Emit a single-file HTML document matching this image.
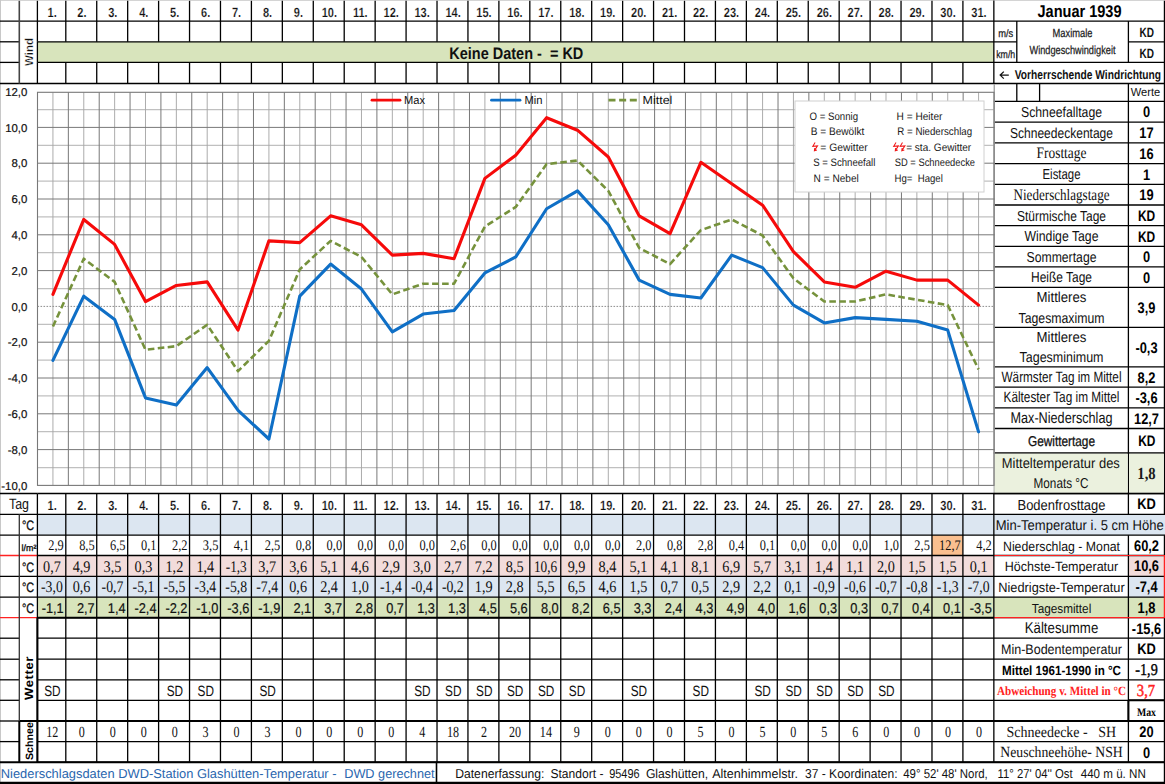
<!DOCTYPE html>
<html><head><meta charset="utf-8"><title>Januar 1939</title>
<style>html,body{margin:0;padding:0;background:#fff;overflow:hidden}body{width:1165px;height:784px;font-family:"Liberation Sans",sans-serif}text{text-rendering:geometricPrecision}</style>
</head><body>
<svg width="1165" height="784" viewBox="0 0 1165 784" style="display:block"><rect x="0.00" y="0.00" width="1165.00" height="784.00" fill="#fff"/>
<rect x="37.40" y="41.80" width="956.45" height="20.60" fill="#d8e4bc"/>
<line x1="0.00" y1="0.40" x2="1165.00" y2="0.40" stroke="#c8c8c8" stroke-width="0.9"/>
<line x1="0.50" y1="0.00" x2="0.50" y2="784.00" stroke="#c8c8c8" stroke-width="1.0"/>
<line x1="0.00" y1="21.10" x2="1165.00" y2="21.10" stroke="#000" stroke-width="1.3"/>
<line x1="0.00" y1="83.50" x2="1165.00" y2="83.50" stroke="#000" stroke-width="1.3"/>
<line x1="0.00" y1="41.80" x2="19.30" y2="41.80" stroke="#000" stroke-width="1.3"/>
<line x1="37.40" y1="41.80" x2="1016.80" y2="41.80" stroke="#000" stroke-width="1.3"/>
<line x1="0.00" y1="62.40" x2="19.30" y2="62.40" stroke="#000" stroke-width="1.3"/>
<line x1="37.40" y1="62.40" x2="1165.00" y2="62.40" stroke="#000" stroke-width="1.3"/>
<line x1="1128.40" y1="41.80" x2="1165.00" y2="41.80" stroke="#000" stroke-width="1.3"/>
<line x1="37.40" y1="0.80" x2="37.40" y2="41.80" stroke="#000" stroke-width="1.3"/>
<line x1="37.40" y1="62.40" x2="37.40" y2="83.50" stroke="#000" stroke-width="1.3"/>
<line x1="65.80" y1="0.80" x2="65.80" y2="41.80" stroke="#000" stroke-width="1.3"/>
<line x1="65.80" y1="62.40" x2="65.80" y2="83.50" stroke="#000" stroke-width="1.3"/>
<line x1="96.73" y1="0.80" x2="96.73" y2="41.80" stroke="#000" stroke-width="1.3"/>
<line x1="96.73" y1="62.40" x2="96.73" y2="83.50" stroke="#000" stroke-width="1.3"/>
<line x1="127.67" y1="0.80" x2="127.67" y2="41.80" stroke="#000" stroke-width="1.3"/>
<line x1="127.67" y1="62.40" x2="127.67" y2="83.50" stroke="#000" stroke-width="1.3"/>
<line x1="158.60" y1="0.80" x2="158.60" y2="41.80" stroke="#000" stroke-width="1.3"/>
<line x1="158.60" y1="62.40" x2="158.60" y2="83.50" stroke="#000" stroke-width="1.3"/>
<line x1="189.54" y1="0.80" x2="189.54" y2="41.80" stroke="#000" stroke-width="1.3"/>
<line x1="189.54" y1="62.40" x2="189.54" y2="83.50" stroke="#000" stroke-width="1.3"/>
<line x1="220.47" y1="0.80" x2="220.47" y2="41.80" stroke="#000" stroke-width="1.3"/>
<line x1="220.47" y1="62.40" x2="220.47" y2="83.50" stroke="#000" stroke-width="1.3"/>
<line x1="251.41" y1="0.80" x2="251.41" y2="41.80" stroke="#000" stroke-width="1.3"/>
<line x1="251.41" y1="62.40" x2="251.41" y2="83.50" stroke="#000" stroke-width="1.3"/>
<line x1="282.34" y1="0.80" x2="282.34" y2="41.80" stroke="#000" stroke-width="1.3"/>
<line x1="282.34" y1="62.40" x2="282.34" y2="83.50" stroke="#000" stroke-width="1.3"/>
<line x1="313.28" y1="0.80" x2="313.28" y2="41.80" stroke="#000" stroke-width="1.3"/>
<line x1="313.28" y1="62.40" x2="313.28" y2="83.50" stroke="#000" stroke-width="1.3"/>
<line x1="344.21" y1="0.80" x2="344.21" y2="41.80" stroke="#000" stroke-width="1.3"/>
<line x1="344.21" y1="62.40" x2="344.21" y2="83.50" stroke="#000" stroke-width="1.3"/>
<line x1="375.15" y1="0.80" x2="375.15" y2="41.80" stroke="#000" stroke-width="1.3"/>
<line x1="375.15" y1="62.40" x2="375.15" y2="83.50" stroke="#000" stroke-width="1.3"/>
<line x1="406.08" y1="0.80" x2="406.08" y2="41.80" stroke="#000" stroke-width="1.3"/>
<line x1="406.08" y1="62.40" x2="406.08" y2="83.50" stroke="#000" stroke-width="1.3"/>
<line x1="437.02" y1="0.80" x2="437.02" y2="41.80" stroke="#000" stroke-width="1.3"/>
<line x1="437.02" y1="62.40" x2="437.02" y2="83.50" stroke="#000" stroke-width="1.3"/>
<line x1="467.95" y1="0.80" x2="467.95" y2="41.80" stroke="#000" stroke-width="1.3"/>
<line x1="467.95" y1="62.40" x2="467.95" y2="83.50" stroke="#000" stroke-width="1.3"/>
<line x1="498.89" y1="0.80" x2="498.89" y2="41.80" stroke="#000" stroke-width="1.3"/>
<line x1="498.89" y1="62.40" x2="498.89" y2="83.50" stroke="#000" stroke-width="1.3"/>
<line x1="529.82" y1="0.80" x2="529.82" y2="41.80" stroke="#000" stroke-width="1.3"/>
<line x1="529.82" y1="62.40" x2="529.82" y2="83.50" stroke="#000" stroke-width="1.3"/>
<line x1="560.76" y1="0.80" x2="560.76" y2="41.80" stroke="#000" stroke-width="1.3"/>
<line x1="560.76" y1="62.40" x2="560.76" y2="83.50" stroke="#000" stroke-width="1.3"/>
<line x1="591.69" y1="0.80" x2="591.69" y2="41.80" stroke="#000" stroke-width="1.3"/>
<line x1="591.69" y1="62.40" x2="591.69" y2="83.50" stroke="#000" stroke-width="1.3"/>
<line x1="622.63" y1="0.80" x2="622.63" y2="41.80" stroke="#000" stroke-width="1.3"/>
<line x1="622.63" y1="62.40" x2="622.63" y2="83.50" stroke="#000" stroke-width="1.3"/>
<line x1="653.56" y1="0.80" x2="653.56" y2="41.80" stroke="#000" stroke-width="1.3"/>
<line x1="653.56" y1="62.40" x2="653.56" y2="83.50" stroke="#000" stroke-width="1.3"/>
<line x1="684.50" y1="0.80" x2="684.50" y2="41.80" stroke="#000" stroke-width="1.3"/>
<line x1="684.50" y1="62.40" x2="684.50" y2="83.50" stroke="#000" stroke-width="1.3"/>
<line x1="715.43" y1="0.80" x2="715.43" y2="41.80" stroke="#000" stroke-width="1.3"/>
<line x1="715.43" y1="62.40" x2="715.43" y2="83.50" stroke="#000" stroke-width="1.3"/>
<line x1="746.37" y1="0.80" x2="746.37" y2="41.80" stroke="#000" stroke-width="1.3"/>
<line x1="746.37" y1="62.40" x2="746.37" y2="83.50" stroke="#000" stroke-width="1.3"/>
<line x1="777.30" y1="0.80" x2="777.30" y2="41.80" stroke="#000" stroke-width="1.3"/>
<line x1="777.30" y1="62.40" x2="777.30" y2="83.50" stroke="#000" stroke-width="1.3"/>
<line x1="808.24" y1="0.80" x2="808.24" y2="41.80" stroke="#000" stroke-width="1.3"/>
<line x1="808.24" y1="62.40" x2="808.24" y2="83.50" stroke="#000" stroke-width="1.3"/>
<line x1="839.17" y1="0.80" x2="839.17" y2="41.80" stroke="#000" stroke-width="1.3"/>
<line x1="839.17" y1="62.40" x2="839.17" y2="83.50" stroke="#000" stroke-width="1.3"/>
<line x1="870.11" y1="0.80" x2="870.11" y2="41.80" stroke="#000" stroke-width="1.3"/>
<line x1="870.11" y1="62.40" x2="870.11" y2="83.50" stroke="#000" stroke-width="1.3"/>
<line x1="901.04" y1="0.80" x2="901.04" y2="41.80" stroke="#000" stroke-width="1.3"/>
<line x1="901.04" y1="62.40" x2="901.04" y2="83.50" stroke="#000" stroke-width="1.3"/>
<line x1="931.98" y1="0.80" x2="931.98" y2="41.80" stroke="#000" stroke-width="1.3"/>
<line x1="931.98" y1="62.40" x2="931.98" y2="83.50" stroke="#000" stroke-width="1.3"/>
<line x1="962.91" y1="0.80" x2="962.91" y2="41.80" stroke="#000" stroke-width="1.3"/>
<line x1="962.91" y1="62.40" x2="962.91" y2="83.50" stroke="#000" stroke-width="1.3"/>
<line x1="37.40" y1="41.80" x2="37.40" y2="62.40" stroke="#000" stroke-width="1.3"/>
<line x1="19.30" y1="0.80" x2="19.30" y2="83.50" stroke="#444" stroke-width="1.6"/>
<line x1="1016.80" y1="21.10" x2="1016.80" y2="62.40" stroke="#000" stroke-width="1.3"/>
<line x1="1128.40" y1="21.10" x2="1128.40" y2="62.40" stroke="#000" stroke-width="1.3"/>
<line x1="1164.40" y1="0.80" x2="1164.40" y2="784.00" stroke="#000" stroke-width="1.2"/>
<text transform="translate(52.20,17.00) scale(0.8300,1)" text-anchor="middle" font-family='"Liberation Sans", sans-serif' font-size="13.3" font-weight="bold" fill="#111" stroke="#fff" stroke-width="0.2" xml:space="preserve">1.</text>
<text transform="translate(81.87,17.00) scale(0.8300,1)" text-anchor="middle" font-family='"Liberation Sans", sans-serif' font-size="13.3" font-weight="bold" fill="#111" stroke="#fff" stroke-width="0.2" xml:space="preserve">2.</text>
<text transform="translate(112.80,17.00) scale(0.8300,1)" text-anchor="middle" font-family='"Liberation Sans", sans-serif' font-size="13.3" font-weight="bold" fill="#111" stroke="#fff" stroke-width="0.2" xml:space="preserve">3.</text>
<text transform="translate(143.74,17.00) scale(0.8300,1)" text-anchor="middle" font-family='"Liberation Sans", sans-serif' font-size="13.3" font-weight="bold" fill="#111" stroke="#fff" stroke-width="0.2" xml:space="preserve">4.</text>
<text transform="translate(174.67,17.00) scale(0.8300,1)" text-anchor="middle" font-family='"Liberation Sans", sans-serif' font-size="13.3" font-weight="bold" fill="#111" stroke="#fff" stroke-width="0.2" xml:space="preserve">5.</text>
<text transform="translate(205.61,17.00) scale(0.8300,1)" text-anchor="middle" font-family='"Liberation Sans", sans-serif' font-size="13.3" font-weight="bold" fill="#111" stroke="#fff" stroke-width="0.2" xml:space="preserve">6.</text>
<text transform="translate(236.54,17.00) scale(0.8300,1)" text-anchor="middle" font-family='"Liberation Sans", sans-serif' font-size="13.3" font-weight="bold" fill="#111" stroke="#fff" stroke-width="0.2" xml:space="preserve">7.</text>
<text transform="translate(267.48,17.00) scale(0.8300,1)" text-anchor="middle" font-family='"Liberation Sans", sans-serif' font-size="13.3" font-weight="bold" fill="#111" stroke="#fff" stroke-width="0.2" xml:space="preserve">8.</text>
<text transform="translate(298.41,17.00) scale(0.8300,1)" text-anchor="middle" font-family='"Liberation Sans", sans-serif' font-size="13.3" font-weight="bold" fill="#111" stroke="#fff" stroke-width="0.2" xml:space="preserve">9.</text>
<text transform="translate(329.35,17.00) scale(0.8300,1)" text-anchor="middle" font-family='"Liberation Sans", sans-serif' font-size="13.3" font-weight="bold" fill="#111" stroke="#fff" stroke-width="0.2" xml:space="preserve">10.</text>
<text transform="translate(360.28,17.00) scale(0.8300,1)" text-anchor="middle" font-family='"Liberation Sans", sans-serif' font-size="13.3" font-weight="bold" fill="#111" stroke="#fff" stroke-width="0.2" xml:space="preserve">11.</text>
<text transform="translate(391.22,17.00) scale(0.8300,1)" text-anchor="middle" font-family='"Liberation Sans", sans-serif' font-size="13.3" font-weight="bold" fill="#111" stroke="#fff" stroke-width="0.2" xml:space="preserve">12.</text>
<text transform="translate(422.15,17.00) scale(0.8300,1)" text-anchor="middle" font-family='"Liberation Sans", sans-serif' font-size="13.3" font-weight="bold" fill="#111" stroke="#fff" stroke-width="0.2" xml:space="preserve">13.</text>
<text transform="translate(453.09,17.00) scale(0.8300,1)" text-anchor="middle" font-family='"Liberation Sans", sans-serif' font-size="13.3" font-weight="bold" fill="#111" stroke="#fff" stroke-width="0.2" xml:space="preserve">14.</text>
<text transform="translate(484.02,17.00) scale(0.8300,1)" text-anchor="middle" font-family='"Liberation Sans", sans-serif' font-size="13.3" font-weight="bold" fill="#111" stroke="#fff" stroke-width="0.2" xml:space="preserve">15.</text>
<text transform="translate(514.96,17.00) scale(0.8300,1)" text-anchor="middle" font-family='"Liberation Sans", sans-serif' font-size="13.3" font-weight="bold" fill="#111" stroke="#fff" stroke-width="0.2" xml:space="preserve">16.</text>
<text transform="translate(545.89,17.00) scale(0.8300,1)" text-anchor="middle" font-family='"Liberation Sans", sans-serif' font-size="13.3" font-weight="bold" fill="#111" stroke="#fff" stroke-width="0.2" xml:space="preserve">17.</text>
<text transform="translate(576.83,17.00) scale(0.8300,1)" text-anchor="middle" font-family='"Liberation Sans", sans-serif' font-size="13.3" font-weight="bold" fill="#111" stroke="#fff" stroke-width="0.2" xml:space="preserve">18.</text>
<text transform="translate(607.76,17.00) scale(0.8300,1)" text-anchor="middle" font-family='"Liberation Sans", sans-serif' font-size="13.3" font-weight="bold" fill="#111" stroke="#fff" stroke-width="0.2" xml:space="preserve">19.</text>
<text transform="translate(638.70,17.00) scale(0.8300,1)" text-anchor="middle" font-family='"Liberation Sans", sans-serif' font-size="13.3" font-weight="bold" fill="#111" stroke="#fff" stroke-width="0.2" xml:space="preserve">20.</text>
<text transform="translate(669.63,17.00) scale(0.8300,1)" text-anchor="middle" font-family='"Liberation Sans", sans-serif' font-size="13.3" font-weight="bold" fill="#111" stroke="#fff" stroke-width="0.2" xml:space="preserve">21.</text>
<text transform="translate(700.57,17.00) scale(0.8300,1)" text-anchor="middle" font-family='"Liberation Sans", sans-serif' font-size="13.3" font-weight="bold" fill="#111" stroke="#fff" stroke-width="0.2" xml:space="preserve">22.</text>
<text transform="translate(731.50,17.00) scale(0.8300,1)" text-anchor="middle" font-family='"Liberation Sans", sans-serif' font-size="13.3" font-weight="bold" fill="#111" stroke="#fff" stroke-width="0.2" xml:space="preserve">23.</text>
<text transform="translate(762.44,17.00) scale(0.8300,1)" text-anchor="middle" font-family='"Liberation Sans", sans-serif' font-size="13.3" font-weight="bold" fill="#111" stroke="#fff" stroke-width="0.2" xml:space="preserve">24.</text>
<text transform="translate(793.37,17.00) scale(0.8300,1)" text-anchor="middle" font-family='"Liberation Sans", sans-serif' font-size="13.3" font-weight="bold" fill="#111" stroke="#fff" stroke-width="0.2" xml:space="preserve">25.</text>
<text transform="translate(824.31,17.00) scale(0.8300,1)" text-anchor="middle" font-family='"Liberation Sans", sans-serif' font-size="13.3" font-weight="bold" fill="#111" stroke="#fff" stroke-width="0.2" xml:space="preserve">26.</text>
<text transform="translate(855.24,17.00) scale(0.8300,1)" text-anchor="middle" font-family='"Liberation Sans", sans-serif' font-size="13.3" font-weight="bold" fill="#111" stroke="#fff" stroke-width="0.2" xml:space="preserve">27.</text>
<text transform="translate(886.18,17.00) scale(0.8300,1)" text-anchor="middle" font-family='"Liberation Sans", sans-serif' font-size="13.3" font-weight="bold" fill="#111" stroke="#fff" stroke-width="0.2" xml:space="preserve">28.</text>
<text transform="translate(917.11,17.00) scale(0.8300,1)" text-anchor="middle" font-family='"Liberation Sans", sans-serif' font-size="13.3" font-weight="bold" fill="#111" stroke="#fff" stroke-width="0.2" xml:space="preserve">29.</text>
<text transform="translate(948.05,17.00) scale(0.8300,1)" text-anchor="middle" font-family='"Liberation Sans", sans-serif' font-size="13.3" font-weight="bold" fill="#111" stroke="#fff" stroke-width="0.2" xml:space="preserve">30.</text>
<text transform="translate(978.98,17.00) scale(0.8300,1)" text-anchor="middle" font-family='"Liberation Sans", sans-serif' font-size="13.3" font-weight="bold" fill="#111" stroke="#fff" stroke-width="0.2" xml:space="preserve">31.</text>
<text transform="translate(32.60,52.00) rotate(-90)" text-anchor="middle" font-family='"Liberation Sans", sans-serif' font-size="11.5" font-weight="bold" fill="#111" textLength="28" lengthAdjust="spacingAndGlyphs" stroke="#fff" stroke-width="0.3" xml:space="preserve">Wind</text>
<text transform="translate(516.30,59.20)" text-anchor="middle" font-family='"Liberation Sans", sans-serif' font-size="16.6" font-weight="bold" fill="#111" textLength="134" lengthAdjust="spacingAndGlyphs" xml:space="preserve">Keine Daten -  = KD</text>
<text transform="translate(1079.50,17.30)" text-anchor="middle" font-family='"Liberation Sans", sans-serif' font-size="17" font-weight="bold" fill="#000" textLength="84" lengthAdjust="spacingAndGlyphs" xml:space="preserve">Januar 1939</text>
<text transform="translate(1005.70,37.00)" text-anchor="middle" font-family='"Liberation Sans", sans-serif' font-size="10.8" font-weight="normal" fill="#1a1a1a" textLength="15" lengthAdjust="spacingAndGlyphs" stroke="#1a1a1a" stroke-width="0.25" xml:space="preserve">m/s</text>
<text transform="translate(1005.70,57.70)" text-anchor="middle" font-family='"Liberation Sans", sans-serif' font-size="10.8" font-weight="normal" fill="#1a1a1a" textLength="19" lengthAdjust="spacingAndGlyphs" stroke="#1a1a1a" stroke-width="0.25" xml:space="preserve">km/h</text>
<text transform="translate(1072.50,37.20)" text-anchor="middle" font-family='"Liberation Sans", sans-serif' font-size="11.8" font-weight="normal" fill="#1a1a1a" textLength="40" lengthAdjust="spacingAndGlyphs" stroke="#1a1a1a" stroke-width="0.25" xml:space="preserve">Maximale</text>
<text transform="translate(1072.50,53.60)" text-anchor="middle" font-family='"Liberation Sans", sans-serif' font-size="11.8" font-weight="normal" fill="#1a1a1a" textLength="86" lengthAdjust="spacingAndGlyphs" stroke="#1a1a1a" stroke-width="0.25" xml:space="preserve">Windgeschwindigkeit</text>
<text transform="translate(1146.80,37.00)" text-anchor="middle" font-family='"Liberation Sans", sans-serif' font-size="13.5" font-weight="bold" fill="#111" textLength="14.5" lengthAdjust="spacingAndGlyphs" xml:space="preserve">KD</text>
<text transform="translate(1146.80,57.80)" text-anchor="middle" font-family='"Liberation Sans", sans-serif' font-size="13.5" font-weight="bold" fill="#111" textLength="14.5" lengthAdjust="spacingAndGlyphs" xml:space="preserve">KD</text>
<path d="M1008.8,75.1 H1000.2 M1003.8,71.6 L1000.2,75.1 L1003.8,78.6" fill="none" stroke="#111" stroke-width="1.3"/>
<text transform="translate(1014.80,78.80)" text-anchor="start" font-family='"Liberation Sans", sans-serif' font-size="12.8" font-weight="bold" fill="#111" textLength="146.3" lengthAdjust="spacingAndGlyphs" xml:space="preserve">Vorherrschende Windrichtung</text>
<line x1="993.85" y1="101.30" x2="1165.00" y2="101.30" stroke="#000" stroke-width="1.3"/>
<line x1="993.85" y1="122.10" x2="1165.00" y2="122.10" stroke="#000" stroke-width="1.3"/>
<line x1="993.85" y1="142.90" x2="1165.00" y2="142.90" stroke="#000" stroke-width="1.3"/>
<line x1="993.85" y1="163.60" x2="1165.00" y2="163.60" stroke="#000" stroke-width="1.3"/>
<line x1="993.85" y1="184.30" x2="1165.00" y2="184.30" stroke="#000" stroke-width="1.3"/>
<line x1="993.85" y1="205.00" x2="1165.00" y2="205.00" stroke="#000" stroke-width="1.3"/>
<line x1="993.85" y1="225.70" x2="1165.00" y2="225.70" stroke="#000" stroke-width="1.3"/>
<line x1="993.85" y1="246.30" x2="1165.00" y2="246.30" stroke="#000" stroke-width="1.3"/>
<line x1="993.85" y1="266.90" x2="1165.00" y2="266.90" stroke="#000" stroke-width="1.3"/>
<line x1="993.85" y1="287.40" x2="1165.00" y2="287.40" stroke="#000" stroke-width="1.3"/>
<line x1="993.85" y1="327.40" x2="1165.00" y2="327.40" stroke="#000" stroke-width="1.3"/>
<line x1="993.85" y1="366.80" x2="1165.00" y2="366.80" stroke="#000" stroke-width="1.3"/>
<line x1="993.85" y1="387.10" x2="1165.00" y2="387.10" stroke="#000" stroke-width="1.3"/>
<line x1="993.85" y1="407.80" x2="1165.00" y2="407.80" stroke="#000" stroke-width="1.3"/>
<line x1="993.85" y1="428.50" x2="1165.00" y2="428.50" stroke="#000" stroke-width="1.3"/>
<line x1="993.85" y1="453.00" x2="1165.00" y2="453.00" stroke="#000" stroke-width="1.3"/>
<line x1="993.85" y1="493.50" x2="1165.00" y2="493.50" stroke="#000" stroke-width="1.3"/>
<line x1="993.85" y1="0.40" x2="993.85" y2="83.50" stroke="#000" stroke-width="1.3"/>
<line x1="994.25" y1="84.10" x2="994.25" y2="493.00" stroke="#9c9c9c" stroke-width="1.3"/>
<line x1="1128.40" y1="83.50" x2="1128.40" y2="493.50" stroke="#000" stroke-width="1.3"/>
<line x1="1016.80" y1="83.50" x2="1016.80" y2="101.30" stroke="#000" stroke-width="1.3"/>
<line x1="1039.60" y1="83.50" x2="1039.60" y2="101.30" stroke="#000" stroke-width="1.3"/>
<rect x="994.55" y="453.70" width="133.15" height="39.10" fill="#ebf1de"/>
<rect x="1129.10" y="453.70" width="34.70" height="39.10" fill="#ebf1de"/>
<text transform="translate(1145.50,96.30)" text-anchor="middle" font-family='"Liberation Sans", sans-serif' font-size="11.8" font-weight="normal" fill="#111" textLength="29.5" lengthAdjust="spacingAndGlyphs" xml:space="preserve">Werte</text>
<text transform="translate(1061.50,116.90)" text-anchor="middle" font-family='"Liberation Sans", sans-serif' font-size="14.5" font-weight="normal" fill="#111" textLength="81" lengthAdjust="spacingAndGlyphs" xml:space="preserve">Schneefalltage</text>
<text transform="translate(1146.50,117.30) scale(0.8400,1)" text-anchor="middle" font-family='"Liberation Sans", sans-serif' font-size="15.3" font-weight="bold" fill="#000" xml:space="preserve">0</text>
<text transform="translate(1061.50,137.70)" text-anchor="middle" font-family='"Liberation Sans", sans-serif' font-size="14.5" font-weight="normal" fill="#111" textLength="103" lengthAdjust="spacingAndGlyphs" xml:space="preserve">Schneedeckentage</text>
<text transform="translate(1146.50,138.10) scale(0.8400,1)" text-anchor="middle" font-family='"Liberation Sans", sans-serif' font-size="15.3" font-weight="bold" fill="#000" xml:space="preserve">17</text>
<text transform="translate(1061.50,158.45)" text-anchor="middle" font-family='"Liberation Serif", serif' font-size="16" font-weight="normal" fill="#111" textLength="50" lengthAdjust="spacingAndGlyphs" xml:space="preserve">Frosttage</text>
<text transform="translate(1146.50,158.85) scale(0.8400,1)" text-anchor="middle" font-family='"Liberation Sans", sans-serif' font-size="15.3" font-weight="bold" fill="#000" xml:space="preserve">16</text>
<text transform="translate(1061.50,179.15)" text-anchor="middle" font-family='"Liberation Sans", sans-serif' font-size="14.5" font-weight="normal" fill="#111" textLength="38" lengthAdjust="spacingAndGlyphs" xml:space="preserve">Eistage</text>
<text transform="translate(1146.50,179.55) scale(0.8400,1)" text-anchor="middle" font-family='"Liberation Sans", sans-serif' font-size="15.3" font-weight="bold" fill="#000" xml:space="preserve">1</text>
<text transform="translate(1061.50,199.85)" text-anchor="middle" font-family='"Liberation Serif", serif' font-size="16" font-weight="normal" fill="#111" textLength="96" lengthAdjust="spacingAndGlyphs" xml:space="preserve">Niederschlagstage</text>
<text transform="translate(1146.50,200.25) scale(0.8400,1)" text-anchor="middle" font-family='"Liberation Sans", sans-serif' font-size="15.3" font-weight="bold" fill="#000" xml:space="preserve">19</text>
<text transform="translate(1061.50,220.55)" text-anchor="middle" font-family='"Liberation Sans", sans-serif' font-size="14.5" font-weight="normal" fill="#111" textLength="89" lengthAdjust="spacingAndGlyphs" xml:space="preserve">Stürmische Tage</text>
<text transform="translate(1146.50,220.95) scale(0.7800,1)" text-anchor="middle" font-family='"Liberation Sans", sans-serif' font-size="15.3" font-weight="bold" fill="#000" xml:space="preserve">KD</text>
<text transform="translate(1061.50,241.20)" text-anchor="middle" font-family='"Liberation Sans", sans-serif' font-size="14.5" font-weight="normal" fill="#111" textLength="74" lengthAdjust="spacingAndGlyphs" xml:space="preserve">Windige Tage</text>
<text transform="translate(1146.50,241.60) scale(0.7800,1)" text-anchor="middle" font-family='"Liberation Sans", sans-serif' font-size="15.3" font-weight="bold" fill="#000" xml:space="preserve">KD</text>
<text transform="translate(1061.50,261.80)" text-anchor="middle" font-family='"Liberation Sans", sans-serif' font-size="14.5" font-weight="normal" fill="#111" textLength="70" lengthAdjust="spacingAndGlyphs" xml:space="preserve">Sommertage</text>
<text transform="translate(1146.50,262.20) scale(0.8400,1)" text-anchor="middle" font-family='"Liberation Sans", sans-serif' font-size="15.3" font-weight="bold" fill="#000" xml:space="preserve">0</text>
<text transform="translate(1061.50,282.35)" text-anchor="middle" font-family='"Liberation Sans", sans-serif' font-size="14.5" font-weight="normal" fill="#111" textLength="61" lengthAdjust="spacingAndGlyphs" xml:space="preserve">Heiße Tage</text>
<text transform="translate(1146.50,282.75) scale(0.8400,1)" text-anchor="middle" font-family='"Liberation Sans", sans-serif' font-size="15.3" font-weight="bold" fill="#000" xml:space="preserve">0</text>
<text transform="translate(1061.50,302.40)" text-anchor="middle" font-family='"Liberation Sans", sans-serif' font-size="14.5" font-weight="normal" fill="#111" textLength="50" lengthAdjust="spacingAndGlyphs" xml:space="preserve">Mittleres</text>
<text transform="translate(1061.50,322.60)" text-anchor="middle" font-family='"Liberation Sans", sans-serif' font-size="14.5" font-weight="normal" fill="#111" textLength="86" lengthAdjust="spacingAndGlyphs" xml:space="preserve">Tagesmaximum</text>
<text transform="translate(1146.50,313.40) scale(0.8400,1)" text-anchor="middle" font-family='"Liberation Sans", sans-serif' font-size="15.3" font-weight="bold" fill="#000" xml:space="preserve">3,9</text>
<text transform="translate(1061.50,342.00)" text-anchor="middle" font-family='"Liberation Sans", sans-serif' font-size="14.5" font-weight="normal" fill="#111" textLength="50" lengthAdjust="spacingAndGlyphs" xml:space="preserve">Mittleres</text>
<text transform="translate(1061.50,362.20)" text-anchor="middle" font-family='"Liberation Sans", sans-serif' font-size="14.5" font-weight="normal" fill="#111" textLength="84" lengthAdjust="spacingAndGlyphs" xml:space="preserve">Tagesminimum</text>
<text transform="translate(1146.50,352.90) scale(0.8400,1)" text-anchor="middle" font-family='"Liberation Sans", sans-serif' font-size="15.3" font-weight="bold" fill="#000" xml:space="preserve">-0,3</text>
<text transform="translate(1061.50,381.55)" text-anchor="middle" font-family='"Liberation Sans", sans-serif' font-size="15.0" font-weight="normal" fill="#111" textLength="120" lengthAdjust="spacingAndGlyphs" xml:space="preserve">Wärmster Tag im Mittel</text>
<text transform="translate(1146.50,382.55) scale(0.8400,1)" text-anchor="middle" font-family='"Liberation Sans", sans-serif' font-size="15.3" font-weight="bold" fill="#000" xml:space="preserve">8,2</text>
<text transform="translate(1061.50,402.05)" text-anchor="middle" font-family='"Liberation Sans", sans-serif' font-size="15.0" font-weight="normal" fill="#111" textLength="116" lengthAdjust="spacingAndGlyphs" xml:space="preserve">Kältester Tag im Mittel</text>
<text transform="translate(1146.50,403.05) scale(0.8400,1)" text-anchor="middle" font-family='"Liberation Sans", sans-serif' font-size="15.3" font-weight="bold" fill="#000" xml:space="preserve">-3,6</text>
<text transform="translate(1061.50,422.75)" text-anchor="middle" font-family='"Liberation Sans", sans-serif' font-size="15.5" font-weight="normal" fill="#111" textLength="102" lengthAdjust="spacingAndGlyphs" xml:space="preserve">Max-Niederschlag</text>
<text transform="translate(1146.50,423.75) scale(0.8400,1)" text-anchor="middle" font-family='"Liberation Sans", sans-serif' font-size="15.3" font-weight="bold" fill="#000" xml:space="preserve">12,7</text>
<text transform="translate(1061.50,445.75)" text-anchor="middle" font-family='"Liberation Sans", sans-serif' font-size="14.2" font-weight="normal" fill="#111" textLength="67" lengthAdjust="spacingAndGlyphs" stroke="#111" stroke-width="0.3" xml:space="preserve">Gewittertage</text>
<text transform="translate(1146.80,446.35) scale(0.7800,1)" text-anchor="middle" font-family='"Liberation Sans", sans-serif' font-size="15.3" font-weight="bold" fill="#000" xml:space="preserve">KD</text>
<text transform="translate(1060.80,468.00)" text-anchor="middle" font-family='"Liberation Sans", sans-serif' font-size="14.3" font-weight="normal" fill="#111" textLength="118" lengthAdjust="spacingAndGlyphs" xml:space="preserve">Mitteltemperatur des</text>
<text transform="translate(1061.00,488.20)" text-anchor="middle" font-family='"Liberation Sans", sans-serif' font-size="14.3" font-weight="normal" fill="#111" textLength="55" lengthAdjust="spacingAndGlyphs" xml:space="preserve">Monats °C</text>
<text transform="translate(1146.50,478.85) scale(0.8600,1)" text-anchor="middle" font-family='"Liberation Serif", serif' font-size="17" font-weight="bold" fill="#1a1a1a" xml:space="preserve">1,8</text>
<line x1="37.50" y1="109.50" x2="994.50" y2="109.50" stroke="#c0c0c0" stroke-width="1.25"/>
<line x1="37.50" y1="145.30" x2="994.50" y2="145.30" stroke="#c0c0c0" stroke-width="1.25"/>
<line x1="37.50" y1="181.10" x2="994.50" y2="181.10" stroke="#c0c0c0" stroke-width="1.25"/>
<line x1="37.50" y1="216.90" x2="994.50" y2="216.90" stroke="#c0c0c0" stroke-width="1.25"/>
<line x1="37.50" y1="252.70" x2="994.50" y2="252.70" stroke="#c0c0c0" stroke-width="1.25"/>
<line x1="37.50" y1="288.50" x2="994.50" y2="288.50" stroke="#c0c0c0" stroke-width="1.25"/>
<line x1="37.50" y1="324.30" x2="994.50" y2="324.30" stroke="#c0c0c0" stroke-width="1.25"/>
<line x1="37.50" y1="360.10" x2="994.50" y2="360.10" stroke="#c0c0c0" stroke-width="1.25"/>
<line x1="37.50" y1="395.90" x2="994.50" y2="395.90" stroke="#c0c0c0" stroke-width="1.25"/>
<line x1="37.50" y1="431.70" x2="994.50" y2="431.70" stroke="#c0c0c0" stroke-width="1.25"/>
<line x1="37.50" y1="467.50" x2="994.50" y2="467.50" stroke="#c0c0c0" stroke-width="1.25"/>
<line x1="52.93" y1="92.30" x2="52.93" y2="485.40" stroke="#a8a8a8" stroke-width="0.95"/>
<line x1="83.78" y1="92.30" x2="83.78" y2="485.40" stroke="#a8a8a8" stroke-width="0.95"/>
<line x1="114.64" y1="92.30" x2="114.64" y2="485.40" stroke="#a8a8a8" stroke-width="0.95"/>
<line x1="145.49" y1="92.30" x2="145.49" y2="485.40" stroke="#a8a8a8" stroke-width="0.95"/>
<line x1="176.35" y1="92.30" x2="176.35" y2="485.40" stroke="#a8a8a8" stroke-width="0.95"/>
<line x1="207.20" y1="92.30" x2="207.20" y2="485.40" stroke="#a8a8a8" stroke-width="0.95"/>
<line x1="238.06" y1="92.30" x2="238.06" y2="485.40" stroke="#a8a8a8" stroke-width="0.95"/>
<line x1="268.91" y1="92.30" x2="268.91" y2="485.40" stroke="#a8a8a8" stroke-width="0.95"/>
<line x1="299.77" y1="92.30" x2="299.77" y2="485.40" stroke="#a8a8a8" stroke-width="0.95"/>
<line x1="330.62" y1="92.30" x2="330.62" y2="485.40" stroke="#a8a8a8" stroke-width="0.95"/>
<line x1="361.48" y1="92.30" x2="361.48" y2="485.40" stroke="#a8a8a8" stroke-width="0.95"/>
<line x1="392.33" y1="92.30" x2="392.33" y2="485.40" stroke="#a8a8a8" stroke-width="0.95"/>
<line x1="423.19" y1="92.30" x2="423.19" y2="485.40" stroke="#a8a8a8" stroke-width="0.95"/>
<line x1="454.04" y1="92.30" x2="454.04" y2="485.40" stroke="#a8a8a8" stroke-width="0.95"/>
<line x1="484.90" y1="92.30" x2="484.90" y2="485.40" stroke="#a8a8a8" stroke-width="0.95"/>
<line x1="515.75" y1="92.30" x2="515.75" y2="485.40" stroke="#a8a8a8" stroke-width="0.95"/>
<line x1="546.60" y1="92.30" x2="546.60" y2="485.40" stroke="#a8a8a8" stroke-width="0.95"/>
<line x1="577.46" y1="92.30" x2="577.46" y2="485.40" stroke="#a8a8a8" stroke-width="0.95"/>
<line x1="608.31" y1="92.30" x2="608.31" y2="485.40" stroke="#a8a8a8" stroke-width="0.95"/>
<line x1="639.17" y1="92.30" x2="639.17" y2="485.40" stroke="#a8a8a8" stroke-width="0.95"/>
<line x1="670.02" y1="92.30" x2="670.02" y2="485.40" stroke="#a8a8a8" stroke-width="0.95"/>
<line x1="700.88" y1="92.30" x2="700.88" y2="485.40" stroke="#a8a8a8" stroke-width="0.95"/>
<line x1="731.73" y1="92.30" x2="731.73" y2="485.40" stroke="#a8a8a8" stroke-width="0.95"/>
<line x1="762.59" y1="92.30" x2="762.59" y2="485.40" stroke="#a8a8a8" stroke-width="0.95"/>
<line x1="793.44" y1="92.30" x2="793.44" y2="485.40" stroke="#a8a8a8" stroke-width="0.95"/>
<line x1="824.30" y1="92.30" x2="824.30" y2="485.40" stroke="#a8a8a8" stroke-width="0.95"/>
<line x1="855.15" y1="92.30" x2="855.15" y2="485.40" stroke="#a8a8a8" stroke-width="0.95"/>
<line x1="886.01" y1="92.30" x2="886.01" y2="485.40" stroke="#a8a8a8" stroke-width="0.95"/>
<line x1="916.86" y1="92.30" x2="916.86" y2="485.40" stroke="#a8a8a8" stroke-width="0.95"/>
<line x1="947.72" y1="92.30" x2="947.72" y2="485.40" stroke="#a8a8a8" stroke-width="0.95"/>
<line x1="978.57" y1="92.30" x2="978.57" y2="485.40" stroke="#a8a8a8" stroke-width="0.95"/>
<line x1="37.50" y1="127.40" x2="994.50" y2="127.40" stroke="#787878" stroke-width="1.0"/>
<line x1="37.50" y1="163.20" x2="994.50" y2="163.20" stroke="#787878" stroke-width="1.0"/>
<line x1="37.50" y1="199.00" x2="994.50" y2="199.00" stroke="#787878" stroke-width="1.0"/>
<line x1="37.50" y1="234.80" x2="994.50" y2="234.80" stroke="#787878" stroke-width="1.0"/>
<line x1="37.50" y1="270.60" x2="994.50" y2="270.60" stroke="#787878" stroke-width="1.0"/>
<line x1="37.50" y1="342.20" x2="994.50" y2="342.20" stroke="#787878" stroke-width="1.0"/>
<line x1="37.50" y1="378.00" x2="994.50" y2="378.00" stroke="#787878" stroke-width="1.0"/>
<line x1="37.50" y1="413.80" x2="994.50" y2="413.80" stroke="#787878" stroke-width="1.0"/>
<line x1="37.50" y1="449.60" x2="994.50" y2="449.60" stroke="#787878" stroke-width="1.0"/>
<line x1="68.35" y1="92.30" x2="68.35" y2="485.40" stroke="#787878" stroke-width="1.0"/>
<line x1="99.21" y1="92.30" x2="99.21" y2="485.40" stroke="#787878" stroke-width="1.0"/>
<line x1="130.06" y1="92.30" x2="130.06" y2="485.40" stroke="#787878" stroke-width="1.0"/>
<line x1="160.92" y1="92.30" x2="160.92" y2="485.40" stroke="#787878" stroke-width="1.0"/>
<line x1="191.77" y1="92.30" x2="191.77" y2="485.40" stroke="#787878" stroke-width="1.0"/>
<line x1="222.63" y1="92.30" x2="222.63" y2="485.40" stroke="#787878" stroke-width="1.0"/>
<line x1="253.48" y1="92.30" x2="253.48" y2="485.40" stroke="#787878" stroke-width="1.0"/>
<line x1="284.34" y1="92.30" x2="284.34" y2="485.40" stroke="#787878" stroke-width="1.0"/>
<line x1="315.19" y1="92.30" x2="315.19" y2="485.40" stroke="#787878" stroke-width="1.0"/>
<line x1="346.05" y1="92.30" x2="346.05" y2="485.40" stroke="#787878" stroke-width="1.0"/>
<line x1="376.90" y1="92.30" x2="376.90" y2="485.40" stroke="#787878" stroke-width="1.0"/>
<line x1="407.76" y1="92.30" x2="407.76" y2="485.40" stroke="#787878" stroke-width="1.0"/>
<line x1="438.61" y1="92.30" x2="438.61" y2="485.40" stroke="#787878" stroke-width="1.0"/>
<line x1="469.47" y1="92.30" x2="469.47" y2="485.40" stroke="#787878" stroke-width="1.0"/>
<line x1="500.32" y1="92.30" x2="500.32" y2="485.40" stroke="#787878" stroke-width="1.0"/>
<line x1="531.18" y1="92.30" x2="531.18" y2="485.40" stroke="#787878" stroke-width="1.0"/>
<line x1="562.03" y1="92.30" x2="562.03" y2="485.40" stroke="#787878" stroke-width="1.0"/>
<line x1="592.89" y1="92.30" x2="592.89" y2="485.40" stroke="#787878" stroke-width="1.0"/>
<line x1="623.74" y1="92.30" x2="623.74" y2="485.40" stroke="#787878" stroke-width="1.0"/>
<line x1="654.60" y1="92.30" x2="654.60" y2="485.40" stroke="#787878" stroke-width="1.0"/>
<line x1="685.45" y1="92.30" x2="685.45" y2="485.40" stroke="#787878" stroke-width="1.0"/>
<line x1="716.31" y1="92.30" x2="716.31" y2="485.40" stroke="#787878" stroke-width="1.0"/>
<line x1="747.16" y1="92.30" x2="747.16" y2="485.40" stroke="#787878" stroke-width="1.0"/>
<line x1="778.02" y1="92.30" x2="778.02" y2="485.40" stroke="#787878" stroke-width="1.0"/>
<line x1="808.87" y1="92.30" x2="808.87" y2="485.40" stroke="#787878" stroke-width="1.0"/>
<line x1="839.73" y1="92.30" x2="839.73" y2="485.40" stroke="#787878" stroke-width="1.0"/>
<line x1="870.58" y1="92.30" x2="870.58" y2="485.40" stroke="#787878" stroke-width="1.0"/>
<line x1="901.44" y1="92.30" x2="901.44" y2="485.40" stroke="#787878" stroke-width="1.0"/>
<line x1="932.29" y1="92.30" x2="932.29" y2="485.40" stroke="#787878" stroke-width="1.0"/>
<line x1="963.15" y1="92.30" x2="963.15" y2="485.40" stroke="#787878" stroke-width="1.0"/>
<rect x="37.5" y="92.3" width="956.50" height="393.10" fill="none" stroke="#787878" stroke-width="1.1"/>
<text transform="translate(27.30,489.60)" text-anchor="end" font-family='"Liberation Sans", sans-serif' font-size="11.4" font-weight="normal" fill="#111" stroke="#111" stroke-width="0.2" xml:space="preserve">-10,0</text>
<text transform="translate(27.30,453.80)" text-anchor="end" font-family='"Liberation Sans", sans-serif' font-size="11.4" font-weight="normal" fill="#111" stroke="#111" stroke-width="0.2" xml:space="preserve">-8,0</text>
<text transform="translate(27.30,418.00)" text-anchor="end" font-family='"Liberation Sans", sans-serif' font-size="11.4" font-weight="normal" fill="#111" stroke="#111" stroke-width="0.2" xml:space="preserve">-6,0</text>
<text transform="translate(27.30,382.20)" text-anchor="end" font-family='"Liberation Sans", sans-serif' font-size="11.4" font-weight="normal" fill="#111" stroke="#111" stroke-width="0.2" xml:space="preserve">-4,0</text>
<text transform="translate(27.30,346.40)" text-anchor="end" font-family='"Liberation Sans", sans-serif' font-size="11.4" font-weight="normal" fill="#111" stroke="#111" stroke-width="0.2" xml:space="preserve">-2,0</text>
<text transform="translate(27.30,310.60)" text-anchor="end" font-family='"Liberation Sans", sans-serif' font-size="11.4" font-weight="normal" fill="#111" stroke="#111" stroke-width="0.2" xml:space="preserve">0,0</text>
<text transform="translate(27.30,274.80)" text-anchor="end" font-family='"Liberation Sans", sans-serif' font-size="11.4" font-weight="normal" fill="#111" stroke="#111" stroke-width="0.2" xml:space="preserve">2,0</text>
<text transform="translate(27.30,239.00)" text-anchor="end" font-family='"Liberation Sans", sans-serif' font-size="11.4" font-weight="normal" fill="#111" stroke="#111" stroke-width="0.2" xml:space="preserve">4,0</text>
<text transform="translate(27.30,203.20)" text-anchor="end" font-family='"Liberation Sans", sans-serif' font-size="11.4" font-weight="normal" fill="#111" stroke="#111" stroke-width="0.2" xml:space="preserve">6,0</text>
<text transform="translate(27.30,167.40)" text-anchor="end" font-family='"Liberation Sans", sans-serif' font-size="11.4" font-weight="normal" fill="#111" stroke="#111" stroke-width="0.2" xml:space="preserve">8,0</text>
<text transform="translate(27.30,131.60)" text-anchor="end" font-family='"Liberation Sans", sans-serif' font-size="11.4" font-weight="normal" fill="#111" stroke="#111" stroke-width="0.2" xml:space="preserve">10,0</text>
<text transform="translate(27.30,95.80)" text-anchor="end" font-family='"Liberation Sans", sans-serif' font-size="11.4" font-weight="normal" fill="#111" stroke="#111" stroke-width="0.2" xml:space="preserve">12,0</text>
<line x1="37.5" y1="306.40" x2="994.0" y2="306.40" stroke="#8c8c8c" stroke-width="1" stroke-dasharray="1.6,1.4"/>
<polyline points="52.93,326.53 83.78,258.70 114.64,281.91 145.49,349.74 176.35,346.17 207.20,324.75 238.06,371.16 268.91,340.81 299.77,269.41 330.62,240.85 361.48,256.92 392.33,294.40 423.19,283.69 454.04,283.69 484.90,226.57 515.75,206.94 546.60,164.10 577.46,160.53 608.31,190.87 639.17,247.99 670.02,264.06 700.88,230.14 731.73,219.43 762.59,235.50 793.44,278.34 824.30,301.54 855.15,301.54 886.01,294.40 916.86,299.76 947.72,305.12 978.57,369.38" fill="none" stroke="#76923c" stroke-width="2.6" stroke-linejoin="round" stroke-linecap="butt" stroke-dasharray="6.6,3.4"/>
<polyline points="52.93,360.45 83.78,296.19 114.64,319.39 145.49,397.93 176.35,405.07 207.20,367.59 238.06,410.43 268.91,438.99 299.77,296.19 330.62,264.06 361.48,289.05 392.33,331.89 423.19,314.04 454.04,310.47 484.90,272.98 515.75,256.92 546.60,208.72 577.46,190.87 608.31,224.79 639.17,280.12 670.02,294.40 700.88,297.97 731.73,255.13 762.59,267.63 793.44,305.12 824.30,322.96 855.15,317.61 886.01,319.39 916.86,321.18 947.72,330.11 978.57,431.85" fill="none" stroke="#0f6fc6" stroke-width="3.1" stroke-linejoin="round" stroke-linecap="round"/>
<polyline points="52.93,294.40 83.78,219.43 114.64,244.42 145.49,301.54 176.35,285.48 207.20,281.91 238.06,330.11 268.91,240.85 299.77,242.64 330.62,215.86 361.48,224.79 392.33,255.13 423.19,253.35 454.04,258.70 484.90,178.38 515.75,155.17 546.60,117.69 577.46,130.19 608.31,156.96 639.17,215.86 670.02,233.71 700.88,162.31 731.73,183.73 762.59,205.15 793.44,251.56 824.30,281.91 855.15,287.26 886.01,271.20 916.86,280.12 947.72,280.12 978.57,305.12" fill="none" stroke="#f60a0a" stroke-width="3.1" stroke-linejoin="round" stroke-linecap="round"/>
<line x1="372" y1="100.2" x2="400" y2="100.2" stroke="#f60a0a" stroke-width="2.8" stroke-linecap="round"/>
<text transform="translate(404.00,104.20)" text-anchor="start" font-family='"Liberation Sans", sans-serif' font-size="11.5" font-weight="normal" fill="#111" textLength="21" lengthAdjust="spacingAndGlyphs" xml:space="preserve">Max</text>
<line x1="491.5" y1="100.2" x2="520" y2="100.2" stroke="#0f6fc6" stroke-width="2.8" stroke-linecap="round"/>
<text transform="translate(524.40,104.20)" text-anchor="start" font-family='"Liberation Sans", sans-serif' font-size="11.5" font-weight="normal" fill="#111" textLength="18" lengthAdjust="spacingAndGlyphs" xml:space="preserve">Min</text>
<line x1="608.5" y1="100.2" x2="636.8" y2="100.2" stroke="#76923c" stroke-width="2.8" stroke-linecap="butt" stroke-dasharray="7,3.65"/>
<text transform="translate(642.60,104.20)" text-anchor="start" font-family='"Liberation Sans", sans-serif' font-size="11.5" font-weight="normal" fill="#111" textLength="29.8" lengthAdjust="spacingAndGlyphs" xml:space="preserve">Mittel</text>
<rect x="795.00" y="101.00" width="189.00" height="91.00" fill="#fff"/>
<rect x="795" y="101" width="189" height="91" fill="#fff" stroke="#d0d0d0" stroke-width="1"/>
<text transform="translate(809.50,120.40)" text-anchor="start" font-family='"Liberation Sans", sans-serif' font-size="10.9" font-weight="normal" fill="#1a1a1a" textLength="48.6" lengthAdjust="spacingAndGlyphs" xml:space="preserve">O = Sonnig</text>
<text transform="translate(896.60,120.40)" text-anchor="start" font-family='"Liberation Sans", sans-serif' font-size="10.9" font-weight="normal" fill="#1a1a1a" textLength="45.8" lengthAdjust="spacingAndGlyphs" xml:space="preserve">H = Heiter</text>
<text transform="translate(810.70,135.30)" text-anchor="start" font-family='"Liberation Sans", sans-serif' font-size="10.9" font-weight="normal" fill="#1a1a1a" textLength="53.6" lengthAdjust="spacingAndGlyphs" xml:space="preserve">B = Bewölkt</text>
<text transform="translate(897.30,135.30)" text-anchor="start" font-family='"Liberation Sans", sans-serif' font-size="10.9" font-weight="normal" fill="#1a1a1a" textLength="74.8" lengthAdjust="spacingAndGlyphs" xml:space="preserve">R = Niederschlag</text>
<text transform="translate(820.30,150.60)" text-anchor="start" font-family='"Liberation Sans", sans-serif' font-size="10.9" font-weight="normal" fill="#1a1a1a" textLength="47.4" lengthAdjust="spacingAndGlyphs" xml:space="preserve">= Gewitter</text>
<text transform="translate(906.20,150.60)" text-anchor="start" font-family='"Liberation Sans", sans-serif' font-size="10.9" font-weight="normal" fill="#1a1a1a" textLength="65" lengthAdjust="spacingAndGlyphs" xml:space="preserve">= sta. Gewitter</text>
<text transform="translate(813.20,165.80)" text-anchor="start" font-family='"Liberation Sans", sans-serif' font-size="10.9" font-weight="normal" fill="#1a1a1a" textLength="62.2" lengthAdjust="spacingAndGlyphs" xml:space="preserve">S = Schneefall</text>
<text transform="translate(894.80,165.80)" text-anchor="start" font-family='"Liberation Sans", sans-serif' font-size="10.9" font-weight="normal" fill="#1a1a1a" textLength="80.2" lengthAdjust="spacingAndGlyphs" xml:space="preserve">SD = Schneedecke</text>
<text transform="translate(813.60,182.10)" text-anchor="start" font-family='"Liberation Sans", sans-serif' font-size="10.9" font-weight="normal" fill="#1a1a1a" textLength="45.2" lengthAdjust="spacingAndGlyphs" xml:space="preserve">N = Nebel</text>
<text transform="translate(894.50,182.10)" text-anchor="start" font-family='"Liberation Sans", sans-serif' font-size="10.9" font-weight="normal" fill="#1a1a1a" textLength="48.3" lengthAdjust="spacingAndGlyphs" xml:space="preserve">Hg=  Hagel</text>
<path d="M815.10,142.40 L812.80,146.30 L817.50,145.90 L814.40,150.70 m0.3,-2.6 l-0.3,2.6 l2.5,-0.7" fill="none" stroke="#f01818" stroke-width="1.05" stroke-linejoin="miter"/>
<path d="M896.00,142.40 L893.70,146.30 L898.40,145.90 L895.30,150.70 m0.3,-2.6 l-0.3,2.6 l2.5,-0.7" fill="none" stroke="#f01818" stroke-width="1.05" stroke-linejoin="miter"/>
<path d="M902.50,142.40 L900.20,146.30 L904.90,145.90 L901.80,150.70 m0.3,-2.6 l-0.3,2.6 l2.5,-0.7" fill="none" stroke="#f01818" stroke-width="1.05" stroke-linejoin="miter"/>
<rect x="37.40" y="514.30" width="1127.60" height="20.90" fill="#dce6f1"/>
<rect x="931.98" y="535.20" width="30.94" height="20.30" fill="#fabf8f"/>
<rect x="37.40" y="555.50" width="956.45" height="20.90" fill="#f2dcdb"/>
<rect x="1128.40" y="555.50" width="36.00" height="20.90" fill="#f2dcdb"/>
<rect x="37.40" y="576.40" width="956.45" height="20.70" fill="#dce6f1"/>
<rect x="1128.40" y="576.40" width="36.00" height="20.70" fill="#dce6f1"/>
<rect x="37.40" y="597.10" width="956.45" height="20.60" fill="#d8e4bc"/>
<rect x="993.85" y="597.10" width="170.55" height="20.60" fill="#d8e4bc"/>
<line x1="37.40" y1="493.50" x2="1165.00" y2="493.50" stroke="#000" stroke-width="1.3"/>
<line x1="37.40" y1="514.30" x2="1165.00" y2="514.30" stroke="#000" stroke-width="1.3"/>
<line x1="37.40" y1="535.20" x2="1165.00" y2="535.20" stroke="#000" stroke-width="1.3"/>
<line x1="37.40" y1="555.50" x2="1165.00" y2="555.50" stroke="#000" stroke-width="1.3"/>
<line x1="37.40" y1="576.40" x2="1165.00" y2="576.40" stroke="#000" stroke-width="1.3"/>
<line x1="37.40" y1="597.10" x2="1165.00" y2="597.10" stroke="#000" stroke-width="1.3"/>
<line x1="37.40" y1="617.70" x2="1165.00" y2="617.70" stroke="#000" stroke-width="1.3"/>
<line x1="37.40" y1="638.20" x2="1165.00" y2="638.20" stroke="#000" stroke-width="1.3"/>
<line x1="37.40" y1="659.20" x2="1165.00" y2="659.20" stroke="#000" stroke-width="1.3"/>
<line x1="37.40" y1="679.80" x2="1165.00" y2="679.80" stroke="#000" stroke-width="1.3"/>
<line x1="37.40" y1="700.30" x2="1165.00" y2="700.30" stroke="#000" stroke-width="1.3"/>
<line x1="37.40" y1="721.00" x2="1165.00" y2="721.00" stroke="#000" stroke-width="1.3"/>
<line x1="37.40" y1="741.60" x2="1165.00" y2="741.60" stroke="#000" stroke-width="1.3"/>
<line x1="37.40" y1="762.20" x2="1165.00" y2="762.20" stroke="#000" stroke-width="1.3"/>
<line x1="0.00" y1="493.50" x2="37.40" y2="493.50" stroke="#000" stroke-width="1.3"/>
<line x1="0.00" y1="514.30" x2="37.40" y2="514.30" stroke="#000" stroke-width="1.3"/>
<line x1="0.00" y1="535.20" x2="37.40" y2="535.20" stroke="#000" stroke-width="1.3"/>
<line x1="0.00" y1="555.50" x2="37.40" y2="555.50" stroke="#ff2222" stroke-width="1.3"/>
<line x1="0.00" y1="576.40" x2="37.40" y2="576.40" stroke="#000" stroke-width="1.3"/>
<line x1="0.00" y1="597.10" x2="37.40" y2="597.10" stroke="#000" stroke-width="1.3"/>
<line x1="0.00" y1="617.70" x2="37.40" y2="617.70" stroke="#ff2222" stroke-width="1.3"/>
<line x1="0.00" y1="638.20" x2="19.30" y2="638.20" stroke="#000" stroke-width="1.3"/>
<line x1="0.00" y1="659.20" x2="19.30" y2="659.20" stroke="#000" stroke-width="1.3"/>
<line x1="0.00" y1="679.80" x2="19.30" y2="679.80" stroke="#000" stroke-width="1.3"/>
<line x1="0.00" y1="700.30" x2="19.30" y2="700.30" stroke="#000" stroke-width="1.3"/>
<line x1="0.00" y1="721.00" x2="19.30" y2="721.00" stroke="#000" stroke-width="1.3"/>
<line x1="19.30" y1="721.00" x2="37.40" y2="721.00" stroke="#000" stroke-width="2.0"/>
<line x1="0.00" y1="741.60" x2="19.30" y2="741.60" stroke="#000" stroke-width="1.3"/>
<line x1="0.00" y1="762.20" x2="1165.00" y2="762.20" stroke="#000" stroke-width="2.0"/>
<line x1="37.40" y1="617.70" x2="993.85" y2="617.70" stroke="#000" stroke-width="2.0"/>
<line x1="37.40" y1="721.00" x2="1165.00" y2="721.00" stroke="#000" stroke-width="2.0"/>
<line x1="37.40" y1="493.50" x2="37.40" y2="762.20" stroke="#000" stroke-width="1.3"/>
<line x1="65.80" y1="493.50" x2="65.80" y2="762.20" stroke="#000" stroke-width="1.3"/>
<line x1="96.73" y1="493.50" x2="96.73" y2="762.20" stroke="#000" stroke-width="1.3"/>
<line x1="127.67" y1="493.50" x2="127.67" y2="762.20" stroke="#000" stroke-width="1.3"/>
<line x1="158.60" y1="493.50" x2="158.60" y2="762.20" stroke="#000" stroke-width="1.3"/>
<line x1="189.54" y1="493.50" x2="189.54" y2="762.20" stroke="#000" stroke-width="1.3"/>
<line x1="220.47" y1="493.50" x2="220.47" y2="762.20" stroke="#000" stroke-width="1.3"/>
<line x1="251.41" y1="493.50" x2="251.41" y2="762.20" stroke="#000" stroke-width="1.3"/>
<line x1="282.34" y1="493.50" x2="282.34" y2="762.20" stroke="#000" stroke-width="1.3"/>
<line x1="313.28" y1="493.50" x2="313.28" y2="762.20" stroke="#000" stroke-width="1.3"/>
<line x1="344.21" y1="493.50" x2="344.21" y2="762.20" stroke="#000" stroke-width="1.3"/>
<line x1="375.15" y1="493.50" x2="375.15" y2="762.20" stroke="#000" stroke-width="1.3"/>
<line x1="406.08" y1="493.50" x2="406.08" y2="762.20" stroke="#000" stroke-width="1.3"/>
<line x1="437.02" y1="493.50" x2="437.02" y2="762.20" stroke="#000" stroke-width="1.3"/>
<line x1="467.95" y1="493.50" x2="467.95" y2="762.20" stroke="#000" stroke-width="1.3"/>
<line x1="498.89" y1="493.50" x2="498.89" y2="762.20" stroke="#000" stroke-width="1.3"/>
<line x1="529.82" y1="493.50" x2="529.82" y2="762.20" stroke="#000" stroke-width="1.3"/>
<line x1="560.76" y1="493.50" x2="560.76" y2="762.20" stroke="#000" stroke-width="1.3"/>
<line x1="591.69" y1="493.50" x2="591.69" y2="762.20" stroke="#000" stroke-width="1.3"/>
<line x1="622.63" y1="493.50" x2="622.63" y2="762.20" stroke="#000" stroke-width="1.3"/>
<line x1="653.56" y1="493.50" x2="653.56" y2="762.20" stroke="#000" stroke-width="1.3"/>
<line x1="684.50" y1="493.50" x2="684.50" y2="762.20" stroke="#000" stroke-width="1.3"/>
<line x1="715.43" y1="493.50" x2="715.43" y2="762.20" stroke="#000" stroke-width="1.3"/>
<line x1="746.37" y1="493.50" x2="746.37" y2="762.20" stroke="#000" stroke-width="1.3"/>
<line x1="777.30" y1="493.50" x2="777.30" y2="762.20" stroke="#000" stroke-width="1.3"/>
<line x1="808.24" y1="493.50" x2="808.24" y2="762.20" stroke="#000" stroke-width="1.3"/>
<line x1="839.17" y1="493.50" x2="839.17" y2="762.20" stroke="#000" stroke-width="1.3"/>
<line x1="870.11" y1="493.50" x2="870.11" y2="762.20" stroke="#000" stroke-width="1.3"/>
<line x1="901.04" y1="493.50" x2="901.04" y2="762.20" stroke="#000" stroke-width="1.3"/>
<line x1="931.98" y1="493.50" x2="931.98" y2="762.20" stroke="#000" stroke-width="1.3"/>
<line x1="962.91" y1="493.50" x2="962.91" y2="762.20" stroke="#000" stroke-width="1.3"/>
<line x1="37.40" y1="617.70" x2="37.40" y2="762.20" stroke="#000" stroke-width="2.0"/>
<line x1="19.30" y1="514.30" x2="19.30" y2="721.00" stroke="#333" stroke-width="1.3"/>
<line x1="19.30" y1="721.00" x2="19.30" y2="762.20" stroke="#000" stroke-width="2.0"/>
<line x1="1128.40" y1="493.50" x2="1128.40" y2="514.30" stroke="#000" stroke-width="1.3"/>
<line x1="1128.40" y1="535.20" x2="1128.40" y2="762.20" stroke="#000" stroke-width="1.3"/>
<line x1="993.85" y1="493.50" x2="993.85" y2="762.20" stroke="#000" stroke-width="1.3"/>
<line x1="994.45" y1="555.50" x2="1165.00" y2="555.50" stroke="#ff2222" stroke-width="1.2"/>
<line x1="994.45" y1="617.70" x2="1165.00" y2="617.70" stroke="#ff2222" stroke-width="1.2"/>
<line x1="1164.40" y1="555.50" x2="1164.40" y2="617.70" stroke="#ff2222" stroke-width="1.3"/>
<text transform="translate(19.00,509.30)" text-anchor="middle" font-family='"Liberation Sans", sans-serif' font-size="15" font-weight="normal" fill="#111" textLength="20" lengthAdjust="spacingAndGlyphs" xml:space="preserve">Tag</text>
<text transform="translate(52.20,509.50) scale(0.8300,1)" text-anchor="middle" font-family='"Liberation Sans", sans-serif' font-size="13.3" font-weight="bold" fill="#111" stroke="#fff" stroke-width="0.2" xml:space="preserve">1.</text>
<text transform="translate(81.87,509.50) scale(0.8300,1)" text-anchor="middle" font-family='"Liberation Sans", sans-serif' font-size="13.3" font-weight="bold" fill="#111" stroke="#fff" stroke-width="0.2" xml:space="preserve">2.</text>
<text transform="translate(112.80,509.50) scale(0.8300,1)" text-anchor="middle" font-family='"Liberation Sans", sans-serif' font-size="13.3" font-weight="bold" fill="#111" stroke="#fff" stroke-width="0.2" xml:space="preserve">3.</text>
<text transform="translate(143.74,509.50) scale(0.8300,1)" text-anchor="middle" font-family='"Liberation Sans", sans-serif' font-size="13.3" font-weight="bold" fill="#111" stroke="#fff" stroke-width="0.2" xml:space="preserve">4.</text>
<text transform="translate(174.67,509.50) scale(0.8300,1)" text-anchor="middle" font-family='"Liberation Sans", sans-serif' font-size="13.3" font-weight="bold" fill="#111" stroke="#fff" stroke-width="0.2" xml:space="preserve">5.</text>
<text transform="translate(205.61,509.50) scale(0.8300,1)" text-anchor="middle" font-family='"Liberation Sans", sans-serif' font-size="13.3" font-weight="bold" fill="#111" stroke="#fff" stroke-width="0.2" xml:space="preserve">6.</text>
<text transform="translate(236.54,509.50) scale(0.8300,1)" text-anchor="middle" font-family='"Liberation Sans", sans-serif' font-size="13.3" font-weight="bold" fill="#111" stroke="#fff" stroke-width="0.2" xml:space="preserve">7.</text>
<text transform="translate(267.48,509.50) scale(0.8300,1)" text-anchor="middle" font-family='"Liberation Sans", sans-serif' font-size="13.3" font-weight="bold" fill="#111" stroke="#fff" stroke-width="0.2" xml:space="preserve">8.</text>
<text transform="translate(298.41,509.50) scale(0.8300,1)" text-anchor="middle" font-family='"Liberation Sans", sans-serif' font-size="13.3" font-weight="bold" fill="#111" stroke="#fff" stroke-width="0.2" xml:space="preserve">9.</text>
<text transform="translate(329.35,509.50) scale(0.8300,1)" text-anchor="middle" font-family='"Liberation Sans", sans-serif' font-size="13.3" font-weight="bold" fill="#111" stroke="#fff" stroke-width="0.2" xml:space="preserve">10.</text>
<text transform="translate(360.28,509.50) scale(0.8300,1)" text-anchor="middle" font-family='"Liberation Sans", sans-serif' font-size="13.3" font-weight="bold" fill="#111" stroke="#fff" stroke-width="0.2" xml:space="preserve">11.</text>
<text transform="translate(391.22,509.50) scale(0.8300,1)" text-anchor="middle" font-family='"Liberation Sans", sans-serif' font-size="13.3" font-weight="bold" fill="#111" stroke="#fff" stroke-width="0.2" xml:space="preserve">12.</text>
<text transform="translate(422.15,509.50) scale(0.8300,1)" text-anchor="middle" font-family='"Liberation Sans", sans-serif' font-size="13.3" font-weight="bold" fill="#111" stroke="#fff" stroke-width="0.2" xml:space="preserve">13.</text>
<text transform="translate(453.09,509.50) scale(0.8300,1)" text-anchor="middle" font-family='"Liberation Sans", sans-serif' font-size="13.3" font-weight="bold" fill="#111" stroke="#fff" stroke-width="0.2" xml:space="preserve">14.</text>
<text transform="translate(484.02,509.50) scale(0.8300,1)" text-anchor="middle" font-family='"Liberation Sans", sans-serif' font-size="13.3" font-weight="bold" fill="#111" stroke="#fff" stroke-width="0.2" xml:space="preserve">15.</text>
<text transform="translate(514.96,509.50) scale(0.8300,1)" text-anchor="middle" font-family='"Liberation Sans", sans-serif' font-size="13.3" font-weight="bold" fill="#111" stroke="#fff" stroke-width="0.2" xml:space="preserve">16.</text>
<text transform="translate(545.89,509.50) scale(0.8300,1)" text-anchor="middle" font-family='"Liberation Sans", sans-serif' font-size="13.3" font-weight="bold" fill="#111" stroke="#fff" stroke-width="0.2" xml:space="preserve">17.</text>
<text transform="translate(576.83,509.50) scale(0.8300,1)" text-anchor="middle" font-family='"Liberation Sans", sans-serif' font-size="13.3" font-weight="bold" fill="#111" stroke="#fff" stroke-width="0.2" xml:space="preserve">18.</text>
<text transform="translate(607.76,509.50) scale(0.8300,1)" text-anchor="middle" font-family='"Liberation Sans", sans-serif' font-size="13.3" font-weight="bold" fill="#111" stroke="#fff" stroke-width="0.2" xml:space="preserve">19.</text>
<text transform="translate(638.70,509.50) scale(0.8300,1)" text-anchor="middle" font-family='"Liberation Sans", sans-serif' font-size="13.3" font-weight="bold" fill="#111" stroke="#fff" stroke-width="0.2" xml:space="preserve">20.</text>
<text transform="translate(669.63,509.50) scale(0.8300,1)" text-anchor="middle" font-family='"Liberation Sans", sans-serif' font-size="13.3" font-weight="bold" fill="#111" stroke="#fff" stroke-width="0.2" xml:space="preserve">21.</text>
<text transform="translate(700.57,509.50) scale(0.8300,1)" text-anchor="middle" font-family='"Liberation Sans", sans-serif' font-size="13.3" font-weight="bold" fill="#111" stroke="#fff" stroke-width="0.2" xml:space="preserve">22.</text>
<text transform="translate(731.50,509.50) scale(0.8300,1)" text-anchor="middle" font-family='"Liberation Sans", sans-serif' font-size="13.3" font-weight="bold" fill="#111" stroke="#fff" stroke-width="0.2" xml:space="preserve">23.</text>
<text transform="translate(762.44,509.50) scale(0.8300,1)" text-anchor="middle" font-family='"Liberation Sans", sans-serif' font-size="13.3" font-weight="bold" fill="#111" stroke="#fff" stroke-width="0.2" xml:space="preserve">24.</text>
<text transform="translate(793.37,509.50) scale(0.8300,1)" text-anchor="middle" font-family='"Liberation Sans", sans-serif' font-size="13.3" font-weight="bold" fill="#111" stroke="#fff" stroke-width="0.2" xml:space="preserve">25.</text>
<text transform="translate(824.31,509.50) scale(0.8300,1)" text-anchor="middle" font-family='"Liberation Sans", sans-serif' font-size="13.3" font-weight="bold" fill="#111" stroke="#fff" stroke-width="0.2" xml:space="preserve">26.</text>
<text transform="translate(855.24,509.50) scale(0.8300,1)" text-anchor="middle" font-family='"Liberation Sans", sans-serif' font-size="13.3" font-weight="bold" fill="#111" stroke="#fff" stroke-width="0.2" xml:space="preserve">27.</text>
<text transform="translate(886.18,509.50) scale(0.8300,1)" text-anchor="middle" font-family='"Liberation Sans", sans-serif' font-size="13.3" font-weight="bold" fill="#111" stroke="#fff" stroke-width="0.2" xml:space="preserve">28.</text>
<text transform="translate(917.11,509.50) scale(0.8300,1)" text-anchor="middle" font-family='"Liberation Sans", sans-serif' font-size="13.3" font-weight="bold" fill="#111" stroke="#fff" stroke-width="0.2" xml:space="preserve">29.</text>
<text transform="translate(948.05,509.50) scale(0.8300,1)" text-anchor="middle" font-family='"Liberation Sans", sans-serif' font-size="13.3" font-weight="bold" fill="#111" stroke="#fff" stroke-width="0.2" xml:space="preserve">30.</text>
<text transform="translate(978.98,509.50) scale(0.8300,1)" text-anchor="middle" font-family='"Liberation Sans", sans-serif' font-size="13.3" font-weight="bold" fill="#111" stroke="#fff" stroke-width="0.2" xml:space="preserve">31.</text>
<text transform="translate(28.00,530.30)" text-anchor="middle" font-family='"Liberation Sans", sans-serif' font-size="13.6" font-weight="normal" fill="#111" textLength="12.2" lengthAdjust="spacingAndGlyphs" stroke="#111" stroke-width="0.3" xml:space="preserve">°C</text>
<text transform="translate(28.00,571.50)" text-anchor="middle" font-family='"Liberation Sans", sans-serif' font-size="13.6" font-weight="normal" fill="#111" textLength="12.2" lengthAdjust="spacingAndGlyphs" stroke="#111" stroke-width="0.3" xml:space="preserve">°C</text>
<text transform="translate(28.00,592.40)" text-anchor="middle" font-family='"Liberation Sans", sans-serif' font-size="13.6" font-weight="normal" fill="#111" textLength="12.2" lengthAdjust="spacingAndGlyphs" stroke="#111" stroke-width="0.3" xml:space="preserve">°C</text>
<text transform="translate(28.00,613.10)" text-anchor="middle" font-family='"Liberation Sans", sans-serif' font-size="13.6" font-weight="normal" fill="#111" textLength="12.2" lengthAdjust="spacingAndGlyphs" stroke="#111" stroke-width="0.3" xml:space="preserve">°C</text>
<text transform="translate(29.00,551.20)" text-anchor="middle" font-family='"Liberation Sans", sans-serif' font-size="9.2" font-weight="normal" fill="#111" textLength="14.8" lengthAdjust="spacingAndGlyphs" stroke="#111" stroke-width="0.35" xml:space="preserve">l/m²</text>
<text transform="translate(63.70,550.10) scale(0.8500,1)" text-anchor="end" font-family='"Liberation Serif", serif' font-size="14.6" font-weight="normal" fill="#111" xml:space="preserve">2,9</text>
<text transform="translate(51.90,571.50) scale(0.8800,1)" text-anchor="middle" font-family='"Liberation Serif", serif' font-size="16.2" font-weight="normal" fill="#111" xml:space="preserve">0,7</text>
<text transform="translate(51.90,592.40) scale(0.8500,1)" text-anchor="middle" font-family='"Liberation Serif", serif' font-size="16.2" font-weight="normal" fill="#111" xml:space="preserve">-3,0</text>
<text transform="translate(63.70,613.30) scale(0.9000,1)" text-anchor="end" font-family='"Liberation Sans", sans-serif' font-size="14.2" font-weight="normal" fill="#111" stroke="#111" stroke-width="0.2" xml:space="preserve">-1,1</text>
<text transform="translate(94.64,550.10) scale(0.8500,1)" text-anchor="end" font-family='"Liberation Serif", serif' font-size="14.6" font-weight="normal" fill="#111" xml:space="preserve">8,5</text>
<text transform="translate(81.57,571.50) scale(0.8800,1)" text-anchor="middle" font-family='"Liberation Serif", serif' font-size="16.2" font-weight="normal" fill="#111" xml:space="preserve">4,9</text>
<text transform="translate(81.57,592.40) scale(0.8800,1)" text-anchor="middle" font-family='"Liberation Serif", serif' font-size="16.2" font-weight="normal" fill="#111" xml:space="preserve">0,6</text>
<text transform="translate(94.64,613.30) scale(0.9000,1)" text-anchor="end" font-family='"Liberation Sans", sans-serif' font-size="14.2" font-weight="normal" fill="#111" stroke="#111" stroke-width="0.2" xml:space="preserve">2,7</text>
<text transform="translate(125.57,550.10) scale(0.8500,1)" text-anchor="end" font-family='"Liberation Serif", serif' font-size="14.6" font-weight="normal" fill="#111" xml:space="preserve">6,5</text>
<text transform="translate(112.50,571.50) scale(0.8800,1)" text-anchor="middle" font-family='"Liberation Serif", serif' font-size="16.2" font-weight="normal" fill="#111" xml:space="preserve">3,5</text>
<text transform="translate(112.50,592.40) scale(0.8500,1)" text-anchor="middle" font-family='"Liberation Serif", serif' font-size="16.2" font-weight="normal" fill="#111" xml:space="preserve">-0,7</text>
<text transform="translate(125.57,613.30) scale(0.9000,1)" text-anchor="end" font-family='"Liberation Sans", sans-serif' font-size="14.2" font-weight="normal" fill="#111" stroke="#111" stroke-width="0.2" xml:space="preserve">1,4</text>
<text transform="translate(156.50,550.10) scale(0.8500,1)" text-anchor="end" font-family='"Liberation Serif", serif' font-size="14.6" font-weight="normal" fill="#111" xml:space="preserve">0,1</text>
<text transform="translate(143.44,571.50) scale(0.8800,1)" text-anchor="middle" font-family='"Liberation Serif", serif' font-size="16.2" font-weight="normal" fill="#111" xml:space="preserve">0,3</text>
<text transform="translate(143.44,592.40) scale(0.8500,1)" text-anchor="middle" font-family='"Liberation Serif", serif' font-size="16.2" font-weight="normal" fill="#111" xml:space="preserve">-5,1</text>
<text transform="translate(156.50,613.30) scale(0.9000,1)" text-anchor="end" font-family='"Liberation Sans", sans-serif' font-size="14.2" font-weight="normal" fill="#111" stroke="#111" stroke-width="0.2" xml:space="preserve">-2,4</text>
<text transform="translate(187.44,550.10) scale(0.8500,1)" text-anchor="end" font-family='"Liberation Serif", serif' font-size="14.6" font-weight="normal" fill="#111" xml:space="preserve">2,2</text>
<text transform="translate(174.37,571.50) scale(0.8800,1)" text-anchor="middle" font-family='"Liberation Serif", serif' font-size="16.2" font-weight="normal" fill="#111" xml:space="preserve">1,2</text>
<text transform="translate(174.37,592.40) scale(0.8500,1)" text-anchor="middle" font-family='"Liberation Serif", serif' font-size="16.2" font-weight="normal" fill="#111" xml:space="preserve">-5,5</text>
<text transform="translate(187.44,613.30) scale(0.9000,1)" text-anchor="end" font-family='"Liberation Sans", sans-serif' font-size="14.2" font-weight="normal" fill="#111" stroke="#111" stroke-width="0.2" xml:space="preserve">-2,2</text>
<text transform="translate(218.37,550.10) scale(0.8500,1)" text-anchor="end" font-family='"Liberation Serif", serif' font-size="14.6" font-weight="normal" fill="#111" xml:space="preserve">3,5</text>
<text transform="translate(205.31,571.50) scale(0.8800,1)" text-anchor="middle" font-family='"Liberation Serif", serif' font-size="16.2" font-weight="normal" fill="#111" xml:space="preserve">1,4</text>
<text transform="translate(205.31,592.40) scale(0.8500,1)" text-anchor="middle" font-family='"Liberation Serif", serif' font-size="16.2" font-weight="normal" fill="#111" xml:space="preserve">-3,4</text>
<text transform="translate(218.37,613.30) scale(0.9000,1)" text-anchor="end" font-family='"Liberation Sans", sans-serif' font-size="14.2" font-weight="normal" fill="#111" stroke="#111" stroke-width="0.2" xml:space="preserve">-1,0</text>
<text transform="translate(249.31,550.10) scale(0.8500,1)" text-anchor="end" font-family='"Liberation Serif", serif' font-size="14.6" font-weight="normal" fill="#111" xml:space="preserve">4,1</text>
<text transform="translate(236.24,571.50) scale(0.8200,1)" text-anchor="middle" font-family='"Liberation Serif", serif' font-size="16.2" font-weight="normal" fill="#111" xml:space="preserve">-1,3</text>
<text transform="translate(236.24,592.40) scale(0.8500,1)" text-anchor="middle" font-family='"Liberation Serif", serif' font-size="16.2" font-weight="normal" fill="#111" xml:space="preserve">-5,8</text>
<text transform="translate(249.31,613.30) scale(0.9000,1)" text-anchor="end" font-family='"Liberation Sans", sans-serif' font-size="14.2" font-weight="normal" fill="#111" stroke="#111" stroke-width="0.2" xml:space="preserve">-3,6</text>
<text transform="translate(280.24,550.10) scale(0.8500,1)" text-anchor="end" font-family='"Liberation Serif", serif' font-size="14.6" font-weight="normal" fill="#111" xml:space="preserve">2,5</text>
<text transform="translate(267.18,571.50) scale(0.8800,1)" text-anchor="middle" font-family='"Liberation Serif", serif' font-size="16.2" font-weight="normal" fill="#111" xml:space="preserve">3,7</text>
<text transform="translate(267.18,592.40) scale(0.8500,1)" text-anchor="middle" font-family='"Liberation Serif", serif' font-size="16.2" font-weight="normal" fill="#111" xml:space="preserve">-7,4</text>
<text transform="translate(280.24,613.30) scale(0.9000,1)" text-anchor="end" font-family='"Liberation Sans", sans-serif' font-size="14.2" font-weight="normal" fill="#111" stroke="#111" stroke-width="0.2" xml:space="preserve">-1,9</text>
<text transform="translate(311.18,550.10) scale(0.8500,1)" text-anchor="end" font-family='"Liberation Serif", serif' font-size="14.6" font-weight="normal" fill="#111" xml:space="preserve">0,8</text>
<text transform="translate(298.11,571.50) scale(0.8800,1)" text-anchor="middle" font-family='"Liberation Serif", serif' font-size="16.2" font-weight="normal" fill="#111" xml:space="preserve">3,6</text>
<text transform="translate(298.11,592.40) scale(0.8800,1)" text-anchor="middle" font-family='"Liberation Serif", serif' font-size="16.2" font-weight="normal" fill="#111" xml:space="preserve">0,6</text>
<text transform="translate(311.18,613.30) scale(0.9000,1)" text-anchor="end" font-family='"Liberation Sans", sans-serif' font-size="14.2" font-weight="normal" fill="#111" stroke="#111" stroke-width="0.2" xml:space="preserve">2,1</text>
<text transform="translate(342.11,550.10) scale(0.8500,1)" text-anchor="end" font-family='"Liberation Serif", serif' font-size="14.6" font-weight="normal" fill="#111" xml:space="preserve">0,0</text>
<text transform="translate(329.05,571.50) scale(0.8800,1)" text-anchor="middle" font-family='"Liberation Serif", serif' font-size="16.2" font-weight="normal" fill="#111" xml:space="preserve">5,1</text>
<text transform="translate(329.05,592.40) scale(0.8800,1)" text-anchor="middle" font-family='"Liberation Serif", serif' font-size="16.2" font-weight="normal" fill="#111" xml:space="preserve">2,4</text>
<text transform="translate(342.11,613.30) scale(0.9000,1)" text-anchor="end" font-family='"Liberation Sans", sans-serif' font-size="14.2" font-weight="normal" fill="#111" stroke="#111" stroke-width="0.2" xml:space="preserve">3,7</text>
<text transform="translate(373.05,550.10) scale(0.8500,1)" text-anchor="end" font-family='"Liberation Serif", serif' font-size="14.6" font-weight="normal" fill="#111" xml:space="preserve">0,0</text>
<text transform="translate(359.98,571.50) scale(0.8800,1)" text-anchor="middle" font-family='"Liberation Serif", serif' font-size="16.2" font-weight="normal" fill="#111" xml:space="preserve">4,6</text>
<text transform="translate(359.98,592.40) scale(0.8800,1)" text-anchor="middle" font-family='"Liberation Serif", serif' font-size="16.2" font-weight="normal" fill="#111" xml:space="preserve">1,0</text>
<text transform="translate(373.05,613.30) scale(0.9000,1)" text-anchor="end" font-family='"Liberation Sans", sans-serif' font-size="14.2" font-weight="normal" fill="#111" stroke="#111" stroke-width="0.2" xml:space="preserve">2,8</text>
<text transform="translate(403.98,550.10) scale(0.8500,1)" text-anchor="end" font-family='"Liberation Serif", serif' font-size="14.6" font-weight="normal" fill="#111" xml:space="preserve">0,0</text>
<text transform="translate(390.92,571.50) scale(0.8800,1)" text-anchor="middle" font-family='"Liberation Serif", serif' font-size="16.2" font-weight="normal" fill="#111" xml:space="preserve">2,9</text>
<text transform="translate(390.92,592.40) scale(0.8500,1)" text-anchor="middle" font-family='"Liberation Serif", serif' font-size="16.2" font-weight="normal" fill="#111" xml:space="preserve">-1,4</text>
<text transform="translate(403.98,613.30) scale(0.9000,1)" text-anchor="end" font-family='"Liberation Sans", sans-serif' font-size="14.2" font-weight="normal" fill="#111" stroke="#111" stroke-width="0.2" xml:space="preserve">0,7</text>
<text transform="translate(434.92,550.10) scale(0.8500,1)" text-anchor="end" font-family='"Liberation Serif", serif' font-size="14.6" font-weight="normal" fill="#111" xml:space="preserve">0,0</text>
<text transform="translate(421.85,571.50) scale(0.8800,1)" text-anchor="middle" font-family='"Liberation Serif", serif' font-size="16.2" font-weight="normal" fill="#111" xml:space="preserve">3,0</text>
<text transform="translate(421.85,592.40) scale(0.8500,1)" text-anchor="middle" font-family='"Liberation Serif", serif' font-size="16.2" font-weight="normal" fill="#111" xml:space="preserve">-0,4</text>
<text transform="translate(434.92,613.30) scale(0.9000,1)" text-anchor="end" font-family='"Liberation Sans", sans-serif' font-size="14.2" font-weight="normal" fill="#111" stroke="#111" stroke-width="0.2" xml:space="preserve">1,3</text>
<text transform="translate(465.85,550.10) scale(0.8500,1)" text-anchor="end" font-family='"Liberation Serif", serif' font-size="14.6" font-weight="normal" fill="#111" xml:space="preserve">2,6</text>
<text transform="translate(452.79,571.50) scale(0.8800,1)" text-anchor="middle" font-family='"Liberation Serif", serif' font-size="16.2" font-weight="normal" fill="#111" xml:space="preserve">2,7</text>
<text transform="translate(452.79,592.40) scale(0.8500,1)" text-anchor="middle" font-family='"Liberation Serif", serif' font-size="16.2" font-weight="normal" fill="#111" xml:space="preserve">-0,2</text>
<text transform="translate(465.85,613.30) scale(0.9000,1)" text-anchor="end" font-family='"Liberation Sans", sans-serif' font-size="14.2" font-weight="normal" fill="#111" stroke="#111" stroke-width="0.2" xml:space="preserve">1,3</text>
<text transform="translate(496.79,550.10) scale(0.8500,1)" text-anchor="end" font-family='"Liberation Serif", serif' font-size="14.6" font-weight="normal" fill="#111" xml:space="preserve">0,0</text>
<text transform="translate(483.72,571.50) scale(0.8800,1)" text-anchor="middle" font-family='"Liberation Serif", serif' font-size="16.2" font-weight="normal" fill="#111" xml:space="preserve">7,2</text>
<text transform="translate(483.72,592.40) scale(0.8800,1)" text-anchor="middle" font-family='"Liberation Serif", serif' font-size="16.2" font-weight="normal" fill="#111" xml:space="preserve">1,9</text>
<text transform="translate(496.79,613.30) scale(0.9000,1)" text-anchor="end" font-family='"Liberation Sans", sans-serif' font-size="14.2" font-weight="normal" fill="#111" stroke="#111" stroke-width="0.2" xml:space="preserve">4,5</text>
<text transform="translate(527.72,550.10) scale(0.8500,1)" text-anchor="end" font-family='"Liberation Serif", serif' font-size="14.6" font-weight="normal" fill="#111" xml:space="preserve">0,0</text>
<text transform="translate(514.66,571.50) scale(0.8800,1)" text-anchor="middle" font-family='"Liberation Serif", serif' font-size="16.2" font-weight="normal" fill="#111" xml:space="preserve">8,5</text>
<text transform="translate(514.66,592.40) scale(0.8800,1)" text-anchor="middle" font-family='"Liberation Serif", serif' font-size="16.2" font-weight="normal" fill="#111" xml:space="preserve">2,8</text>
<text transform="translate(527.72,613.30) scale(0.9000,1)" text-anchor="end" font-family='"Liberation Sans", sans-serif' font-size="14.2" font-weight="normal" fill="#111" stroke="#111" stroke-width="0.2" xml:space="preserve">5,6</text>
<text transform="translate(558.66,550.10) scale(0.8500,1)" text-anchor="end" font-family='"Liberation Serif", serif' font-size="14.6" font-weight="normal" fill="#111" xml:space="preserve">0,0</text>
<text transform="translate(545.59,571.50) scale(0.8200,1)" text-anchor="middle" font-family='"Liberation Serif", serif' font-size="16.2" font-weight="normal" fill="#111" xml:space="preserve">10,6</text>
<text transform="translate(545.59,592.40) scale(0.8800,1)" text-anchor="middle" font-family='"Liberation Serif", serif' font-size="16.2" font-weight="normal" fill="#111" xml:space="preserve">5,5</text>
<text transform="translate(558.66,613.30) scale(0.9000,1)" text-anchor="end" font-family='"Liberation Sans", sans-serif' font-size="14.2" font-weight="normal" fill="#111" stroke="#111" stroke-width="0.2" xml:space="preserve">8,0</text>
<text transform="translate(589.59,550.10) scale(0.8500,1)" text-anchor="end" font-family='"Liberation Serif", serif' font-size="14.6" font-weight="normal" fill="#111" xml:space="preserve">0,0</text>
<text transform="translate(576.53,571.50) scale(0.8800,1)" text-anchor="middle" font-family='"Liberation Serif", serif' font-size="16.2" font-weight="normal" fill="#111" xml:space="preserve">9,9</text>
<text transform="translate(576.53,592.40) scale(0.8800,1)" text-anchor="middle" font-family='"Liberation Serif", serif' font-size="16.2" font-weight="normal" fill="#111" xml:space="preserve">6,5</text>
<text transform="translate(589.59,613.30) scale(0.9000,1)" text-anchor="end" font-family='"Liberation Sans", sans-serif' font-size="14.2" font-weight="normal" fill="#111" stroke="#111" stroke-width="0.2" xml:space="preserve">8,2</text>
<text transform="translate(620.53,550.10) scale(0.8500,1)" text-anchor="end" font-family='"Liberation Serif", serif' font-size="14.6" font-weight="normal" fill="#111" xml:space="preserve">0,0</text>
<text transform="translate(607.46,571.50) scale(0.8800,1)" text-anchor="middle" font-family='"Liberation Serif", serif' font-size="16.2" font-weight="normal" fill="#111" xml:space="preserve">8,4</text>
<text transform="translate(607.46,592.40) scale(0.8800,1)" text-anchor="middle" font-family='"Liberation Serif", serif' font-size="16.2" font-weight="normal" fill="#111" xml:space="preserve">4,6</text>
<text transform="translate(620.53,613.30) scale(0.9000,1)" text-anchor="end" font-family='"Liberation Sans", sans-serif' font-size="14.2" font-weight="normal" fill="#111" stroke="#111" stroke-width="0.2" xml:space="preserve">6,5</text>
<text transform="translate(651.46,550.10) scale(0.8500,1)" text-anchor="end" font-family='"Liberation Serif", serif' font-size="14.6" font-weight="normal" fill="#111" xml:space="preserve">2,0</text>
<text transform="translate(638.40,571.50) scale(0.8800,1)" text-anchor="middle" font-family='"Liberation Serif", serif' font-size="16.2" font-weight="normal" fill="#111" xml:space="preserve">5,1</text>
<text transform="translate(638.40,592.40) scale(0.8800,1)" text-anchor="middle" font-family='"Liberation Serif", serif' font-size="16.2" font-weight="normal" fill="#111" xml:space="preserve">1,5</text>
<text transform="translate(651.46,613.30) scale(0.9000,1)" text-anchor="end" font-family='"Liberation Sans", sans-serif' font-size="14.2" font-weight="normal" fill="#111" stroke="#111" stroke-width="0.2" xml:space="preserve">3,3</text>
<text transform="translate(682.40,550.10) scale(0.8500,1)" text-anchor="end" font-family='"Liberation Serif", serif' font-size="14.6" font-weight="normal" fill="#111" xml:space="preserve">0,8</text>
<text transform="translate(669.33,571.50) scale(0.8800,1)" text-anchor="middle" font-family='"Liberation Serif", serif' font-size="16.2" font-weight="normal" fill="#111" xml:space="preserve">4,1</text>
<text transform="translate(669.33,592.40) scale(0.8800,1)" text-anchor="middle" font-family='"Liberation Serif", serif' font-size="16.2" font-weight="normal" fill="#111" xml:space="preserve">0,7</text>
<text transform="translate(682.40,613.30) scale(0.9000,1)" text-anchor="end" font-family='"Liberation Sans", sans-serif' font-size="14.2" font-weight="normal" fill="#111" stroke="#111" stroke-width="0.2" xml:space="preserve">2,4</text>
<text transform="translate(713.33,550.10) scale(0.8500,1)" text-anchor="end" font-family='"Liberation Serif", serif' font-size="14.6" font-weight="normal" fill="#111" xml:space="preserve">2,8</text>
<text transform="translate(700.27,571.50) scale(0.8800,1)" text-anchor="middle" font-family='"Liberation Serif", serif' font-size="16.2" font-weight="normal" fill="#111" xml:space="preserve">8,1</text>
<text transform="translate(700.27,592.40) scale(0.8800,1)" text-anchor="middle" font-family='"Liberation Serif", serif' font-size="16.2" font-weight="normal" fill="#111" xml:space="preserve">0,5</text>
<text transform="translate(713.33,613.30) scale(0.9000,1)" text-anchor="end" font-family='"Liberation Sans", sans-serif' font-size="14.2" font-weight="normal" fill="#111" stroke="#111" stroke-width="0.2" xml:space="preserve">4,3</text>
<text transform="translate(744.27,550.10) scale(0.8500,1)" text-anchor="end" font-family='"Liberation Serif", serif' font-size="14.6" font-weight="normal" fill="#111" xml:space="preserve">0,4</text>
<text transform="translate(731.20,571.50) scale(0.8800,1)" text-anchor="middle" font-family='"Liberation Serif", serif' font-size="16.2" font-weight="normal" fill="#111" xml:space="preserve">6,9</text>
<text transform="translate(731.20,592.40) scale(0.8800,1)" text-anchor="middle" font-family='"Liberation Serif", serif' font-size="16.2" font-weight="normal" fill="#111" xml:space="preserve">2,9</text>
<text transform="translate(744.27,613.30) scale(0.9000,1)" text-anchor="end" font-family='"Liberation Sans", sans-serif' font-size="14.2" font-weight="normal" fill="#111" stroke="#111" stroke-width="0.2" xml:space="preserve">4,9</text>
<text transform="translate(775.20,550.10) scale(0.8500,1)" text-anchor="end" font-family='"Liberation Serif", serif' font-size="14.6" font-weight="normal" fill="#111" xml:space="preserve">0,1</text>
<text transform="translate(762.14,571.50) scale(0.8800,1)" text-anchor="middle" font-family='"Liberation Serif", serif' font-size="16.2" font-weight="normal" fill="#111" xml:space="preserve">5,7</text>
<text transform="translate(762.14,592.40) scale(0.8800,1)" text-anchor="middle" font-family='"Liberation Serif", serif' font-size="16.2" font-weight="normal" fill="#111" xml:space="preserve">2,2</text>
<text transform="translate(775.20,613.30) scale(0.9000,1)" text-anchor="end" font-family='"Liberation Sans", sans-serif' font-size="14.2" font-weight="normal" fill="#111" stroke="#111" stroke-width="0.2" xml:space="preserve">4,0</text>
<text transform="translate(806.14,550.10) scale(0.8500,1)" text-anchor="end" font-family='"Liberation Serif", serif' font-size="14.6" font-weight="normal" fill="#111" xml:space="preserve">0,0</text>
<text transform="translate(793.07,571.50) scale(0.8800,1)" text-anchor="middle" font-family='"Liberation Serif", serif' font-size="16.2" font-weight="normal" fill="#111" xml:space="preserve">3,1</text>
<text transform="translate(793.07,592.40) scale(0.8800,1)" text-anchor="middle" font-family='"Liberation Serif", serif' font-size="16.2" font-weight="normal" fill="#111" xml:space="preserve">0,1</text>
<text transform="translate(806.14,613.30) scale(0.9000,1)" text-anchor="end" font-family='"Liberation Sans", sans-serif' font-size="14.2" font-weight="normal" fill="#111" stroke="#111" stroke-width="0.2" xml:space="preserve">1,6</text>
<text transform="translate(837.07,550.10) scale(0.8500,1)" text-anchor="end" font-family='"Liberation Serif", serif' font-size="14.6" font-weight="normal" fill="#111" xml:space="preserve">0,0</text>
<text transform="translate(824.01,571.50) scale(0.8800,1)" text-anchor="middle" font-family='"Liberation Serif", serif' font-size="16.2" font-weight="normal" fill="#111" xml:space="preserve">1,4</text>
<text transform="translate(824.01,592.40) scale(0.8500,1)" text-anchor="middle" font-family='"Liberation Serif", serif' font-size="16.2" font-weight="normal" fill="#111" xml:space="preserve">-0,9</text>
<text transform="translate(837.07,613.30) scale(0.9000,1)" text-anchor="end" font-family='"Liberation Sans", sans-serif' font-size="14.2" font-weight="normal" fill="#111" stroke="#111" stroke-width="0.2" xml:space="preserve">0,3</text>
<text transform="translate(868.01,550.10) scale(0.8500,1)" text-anchor="end" font-family='"Liberation Serif", serif' font-size="14.6" font-weight="normal" fill="#111" xml:space="preserve">0,0</text>
<text transform="translate(854.94,571.50) scale(0.8800,1)" text-anchor="middle" font-family='"Liberation Serif", serif' font-size="16.2" font-weight="normal" fill="#111" xml:space="preserve">1,1</text>
<text transform="translate(854.94,592.40) scale(0.8500,1)" text-anchor="middle" font-family='"Liberation Serif", serif' font-size="16.2" font-weight="normal" fill="#111" xml:space="preserve">-0,6</text>
<text transform="translate(868.01,613.30) scale(0.9000,1)" text-anchor="end" font-family='"Liberation Sans", sans-serif' font-size="14.2" font-weight="normal" fill="#111" stroke="#111" stroke-width="0.2" xml:space="preserve">0,3</text>
<text transform="translate(898.94,550.10) scale(0.8500,1)" text-anchor="end" font-family='"Liberation Serif", serif' font-size="14.6" font-weight="normal" fill="#111" xml:space="preserve">1,0</text>
<text transform="translate(885.88,571.50) scale(0.8800,1)" text-anchor="middle" font-family='"Liberation Serif", serif' font-size="16.2" font-weight="normal" fill="#111" xml:space="preserve">2,0</text>
<text transform="translate(885.88,592.40) scale(0.8500,1)" text-anchor="middle" font-family='"Liberation Serif", serif' font-size="16.2" font-weight="normal" fill="#111" xml:space="preserve">-0,7</text>
<text transform="translate(898.94,613.30) scale(0.9000,1)" text-anchor="end" font-family='"Liberation Sans", sans-serif' font-size="14.2" font-weight="normal" fill="#111" stroke="#111" stroke-width="0.2" xml:space="preserve">0,7</text>
<text transform="translate(929.88,550.10) scale(0.8500,1)" text-anchor="end" font-family='"Liberation Serif", serif' font-size="14.6" font-weight="normal" fill="#111" xml:space="preserve">2,5</text>
<text transform="translate(916.81,571.50) scale(0.8800,1)" text-anchor="middle" font-family='"Liberation Serif", serif' font-size="16.2" font-weight="normal" fill="#111" xml:space="preserve">1,5</text>
<text transform="translate(916.81,592.40) scale(0.8500,1)" text-anchor="middle" font-family='"Liberation Serif", serif' font-size="16.2" font-weight="normal" fill="#111" xml:space="preserve">-0,8</text>
<text transform="translate(929.88,613.30) scale(0.9000,1)" text-anchor="end" font-family='"Liberation Sans", sans-serif' font-size="14.2" font-weight="normal" fill="#111" stroke="#111" stroke-width="0.2" xml:space="preserve">0,4</text>
<text transform="translate(960.81,550.10) scale(0.8500,1)" text-anchor="end" font-family='"Liberation Serif", serif' font-size="14.6" font-weight="normal" fill="#111" xml:space="preserve">12,7</text>
<text transform="translate(947.75,571.50) scale(0.8800,1)" text-anchor="middle" font-family='"Liberation Serif", serif' font-size="16.2" font-weight="normal" fill="#111" xml:space="preserve">1,5</text>
<text transform="translate(947.75,592.40) scale(0.8500,1)" text-anchor="middle" font-family='"Liberation Serif", serif' font-size="16.2" font-weight="normal" fill="#111" xml:space="preserve">-1,3</text>
<text transform="translate(960.81,613.30) scale(0.9000,1)" text-anchor="end" font-family='"Liberation Sans", sans-serif' font-size="14.2" font-weight="normal" fill="#111" stroke="#111" stroke-width="0.2" xml:space="preserve">0,1</text>
<text transform="translate(991.75,550.10) scale(0.8500,1)" text-anchor="end" font-family='"Liberation Serif", serif' font-size="14.6" font-weight="normal" fill="#111" xml:space="preserve">4,2</text>
<text transform="translate(978.68,571.50) scale(0.8800,1)" text-anchor="middle" font-family='"Liberation Serif", serif' font-size="16.2" font-weight="normal" fill="#111" xml:space="preserve">0,1</text>
<text transform="translate(978.68,592.40) scale(0.8500,1)" text-anchor="middle" font-family='"Liberation Serif", serif' font-size="16.2" font-weight="normal" fill="#111" xml:space="preserve">-7,0</text>
<text transform="translate(991.75,613.30) scale(0.9000,1)" text-anchor="end" font-family='"Liberation Sans", sans-serif' font-size="14.2" font-weight="normal" fill="#111" stroke="#111" stroke-width="0.2" xml:space="preserve">-3,5</text>
<text transform="translate(52.40,695.80)" text-anchor="middle" font-family='"Liberation Sans", sans-serif' font-size="14.9" font-weight="normal" fill="#111" textLength="16.4" lengthAdjust="spacingAndGlyphs" xml:space="preserve">SD</text>
<text transform="translate(174.87,695.80)" text-anchor="middle" font-family='"Liberation Sans", sans-serif' font-size="14.9" font-weight="normal" fill="#111" textLength="16.4" lengthAdjust="spacingAndGlyphs" xml:space="preserve">SD</text>
<text transform="translate(205.81,695.80)" text-anchor="middle" font-family='"Liberation Sans", sans-serif' font-size="14.9" font-weight="normal" fill="#111" textLength="16.4" lengthAdjust="spacingAndGlyphs" xml:space="preserve">SD</text>
<text transform="translate(267.68,695.80)" text-anchor="middle" font-family='"Liberation Sans", sans-serif' font-size="14.9" font-weight="normal" fill="#111" textLength="16.4" lengthAdjust="spacingAndGlyphs" xml:space="preserve">SD</text>
<text transform="translate(422.35,695.80)" text-anchor="middle" font-family='"Liberation Sans", sans-serif' font-size="14.9" font-weight="normal" fill="#111" textLength="16.4" lengthAdjust="spacingAndGlyphs" xml:space="preserve">SD</text>
<text transform="translate(453.29,695.80)" text-anchor="middle" font-family='"Liberation Sans", sans-serif' font-size="14.9" font-weight="normal" fill="#111" textLength="16.4" lengthAdjust="spacingAndGlyphs" xml:space="preserve">SD</text>
<text transform="translate(484.22,695.80)" text-anchor="middle" font-family='"Liberation Sans", sans-serif' font-size="14.9" font-weight="normal" fill="#111" textLength="16.4" lengthAdjust="spacingAndGlyphs" xml:space="preserve">SD</text>
<text transform="translate(515.16,695.80)" text-anchor="middle" font-family='"Liberation Sans", sans-serif' font-size="14.9" font-weight="normal" fill="#111" textLength="16.4" lengthAdjust="spacingAndGlyphs" xml:space="preserve">SD</text>
<text transform="translate(546.09,695.80)" text-anchor="middle" font-family='"Liberation Sans", sans-serif' font-size="14.9" font-weight="normal" fill="#111" textLength="16.4" lengthAdjust="spacingAndGlyphs" xml:space="preserve">SD</text>
<text transform="translate(577.03,695.80)" text-anchor="middle" font-family='"Liberation Sans", sans-serif' font-size="14.9" font-weight="normal" fill="#111" textLength="16.4" lengthAdjust="spacingAndGlyphs" xml:space="preserve">SD</text>
<text transform="translate(638.90,695.80)" text-anchor="middle" font-family='"Liberation Sans", sans-serif' font-size="14.9" font-weight="normal" fill="#111" textLength="16.4" lengthAdjust="spacingAndGlyphs" xml:space="preserve">SD</text>
<text transform="translate(700.77,695.80)" text-anchor="middle" font-family='"Liberation Sans", sans-serif' font-size="14.9" font-weight="normal" fill="#111" textLength="16.4" lengthAdjust="spacingAndGlyphs" xml:space="preserve">SD</text>
<text transform="translate(762.64,695.80)" text-anchor="middle" font-family='"Liberation Sans", sans-serif' font-size="14.9" font-weight="normal" fill="#111" textLength="16.4" lengthAdjust="spacingAndGlyphs" xml:space="preserve">SD</text>
<text transform="translate(793.57,695.80)" text-anchor="middle" font-family='"Liberation Sans", sans-serif' font-size="14.9" font-weight="normal" fill="#111" textLength="16.4" lengthAdjust="spacingAndGlyphs" xml:space="preserve">SD</text>
<text transform="translate(824.51,695.80)" text-anchor="middle" font-family='"Liberation Sans", sans-serif' font-size="14.9" font-weight="normal" fill="#111" textLength="16.4" lengthAdjust="spacingAndGlyphs" xml:space="preserve">SD</text>
<text transform="translate(855.44,695.80)" text-anchor="middle" font-family='"Liberation Sans", sans-serif' font-size="14.9" font-weight="normal" fill="#111" textLength="16.4" lengthAdjust="spacingAndGlyphs" xml:space="preserve">SD</text>
<text transform="translate(886.38,695.80)" text-anchor="middle" font-family='"Liberation Sans", sans-serif' font-size="14.9" font-weight="normal" fill="#111" textLength="16.4" lengthAdjust="spacingAndGlyphs" xml:space="preserve">SD</text>
<text transform="translate(52.20,737.20) scale(0.7800,1)" text-anchor="middle" font-family='"Liberation Serif", serif' font-size="15.5" font-weight="normal" fill="#111" xml:space="preserve">12</text>
<text transform="translate(81.87,737.20) scale(0.7800,1)" text-anchor="middle" font-family='"Liberation Serif", serif' font-size="15.5" font-weight="normal" fill="#111" xml:space="preserve">0</text>
<text transform="translate(112.80,737.20) scale(0.7800,1)" text-anchor="middle" font-family='"Liberation Serif", serif' font-size="15.5" font-weight="normal" fill="#111" xml:space="preserve">0</text>
<text transform="translate(143.74,737.20) scale(0.7800,1)" text-anchor="middle" font-family='"Liberation Serif", serif' font-size="15.5" font-weight="normal" fill="#111" xml:space="preserve">0</text>
<text transform="translate(174.67,737.20) scale(0.7800,1)" text-anchor="middle" font-family='"Liberation Serif", serif' font-size="15.5" font-weight="normal" fill="#111" xml:space="preserve">0</text>
<text transform="translate(205.61,737.20) scale(0.7800,1)" text-anchor="middle" font-family='"Liberation Serif", serif' font-size="15.5" font-weight="normal" fill="#111" xml:space="preserve">3</text>
<text transform="translate(236.54,737.20) scale(0.7800,1)" text-anchor="middle" font-family='"Liberation Serif", serif' font-size="15.5" font-weight="normal" fill="#111" xml:space="preserve">0</text>
<text transform="translate(267.48,737.20) scale(0.7800,1)" text-anchor="middle" font-family='"Liberation Serif", serif' font-size="15.5" font-weight="normal" fill="#111" xml:space="preserve">3</text>
<text transform="translate(298.41,737.20) scale(0.7800,1)" text-anchor="middle" font-family='"Liberation Serif", serif' font-size="15.5" font-weight="normal" fill="#111" xml:space="preserve">0</text>
<text transform="translate(329.35,737.20) scale(0.7800,1)" text-anchor="middle" font-family='"Liberation Serif", serif' font-size="15.5" font-weight="normal" fill="#111" xml:space="preserve">0</text>
<text transform="translate(360.28,737.20) scale(0.7800,1)" text-anchor="middle" font-family='"Liberation Serif", serif' font-size="15.5" font-weight="normal" fill="#111" xml:space="preserve">0</text>
<text transform="translate(391.22,737.20) scale(0.7800,1)" text-anchor="middle" font-family='"Liberation Serif", serif' font-size="15.5" font-weight="normal" fill="#111" xml:space="preserve">0</text>
<text transform="translate(422.15,737.20) scale(0.7800,1)" text-anchor="middle" font-family='"Liberation Serif", serif' font-size="15.5" font-weight="normal" fill="#111" xml:space="preserve">4</text>
<text transform="translate(453.09,737.20) scale(0.7800,1)" text-anchor="middle" font-family='"Liberation Serif", serif' font-size="15.5" font-weight="normal" fill="#111" xml:space="preserve">18</text>
<text transform="translate(484.02,737.20) scale(0.7800,1)" text-anchor="middle" font-family='"Liberation Serif", serif' font-size="15.5" font-weight="normal" fill="#111" xml:space="preserve">2</text>
<text transform="translate(514.96,737.20) scale(0.7800,1)" text-anchor="middle" font-family='"Liberation Serif", serif' font-size="15.5" font-weight="normal" fill="#111" xml:space="preserve">20</text>
<text transform="translate(545.89,737.20) scale(0.7800,1)" text-anchor="middle" font-family='"Liberation Serif", serif' font-size="15.5" font-weight="normal" fill="#111" xml:space="preserve">14</text>
<text transform="translate(576.83,737.20) scale(0.7800,1)" text-anchor="middle" font-family='"Liberation Serif", serif' font-size="15.5" font-weight="normal" fill="#111" xml:space="preserve">9</text>
<text transform="translate(607.76,737.20) scale(0.7800,1)" text-anchor="middle" font-family='"Liberation Serif", serif' font-size="15.5" font-weight="normal" fill="#111" xml:space="preserve">0</text>
<text transform="translate(638.70,737.20) scale(0.7800,1)" text-anchor="middle" font-family='"Liberation Serif", serif' font-size="15.5" font-weight="normal" fill="#111" xml:space="preserve">0</text>
<text transform="translate(669.63,737.20) scale(0.7800,1)" text-anchor="middle" font-family='"Liberation Serif", serif' font-size="15.5" font-weight="normal" fill="#111" xml:space="preserve">0</text>
<text transform="translate(700.57,737.20) scale(0.7800,1)" text-anchor="middle" font-family='"Liberation Serif", serif' font-size="15.5" font-weight="normal" fill="#111" xml:space="preserve">5</text>
<text transform="translate(731.50,737.20) scale(0.7800,1)" text-anchor="middle" font-family='"Liberation Serif", serif' font-size="15.5" font-weight="normal" fill="#111" xml:space="preserve">0</text>
<text transform="translate(762.44,737.20) scale(0.7800,1)" text-anchor="middle" font-family='"Liberation Serif", serif' font-size="15.5" font-weight="normal" fill="#111" xml:space="preserve">5</text>
<text transform="translate(793.37,737.20) scale(0.7800,1)" text-anchor="middle" font-family='"Liberation Serif", serif' font-size="15.5" font-weight="normal" fill="#111" xml:space="preserve">0</text>
<text transform="translate(824.31,737.20) scale(0.7800,1)" text-anchor="middle" font-family='"Liberation Serif", serif' font-size="15.5" font-weight="normal" fill="#111" xml:space="preserve">5</text>
<text transform="translate(855.24,737.20) scale(0.7800,1)" text-anchor="middle" font-family='"Liberation Serif", serif' font-size="15.5" font-weight="normal" fill="#111" xml:space="preserve">6</text>
<text transform="translate(886.18,737.20) scale(0.7800,1)" text-anchor="middle" font-family='"Liberation Serif", serif' font-size="15.5" font-weight="normal" fill="#111" xml:space="preserve">0</text>
<text transform="translate(917.11,737.20) scale(0.7800,1)" text-anchor="middle" font-family='"Liberation Serif", serif' font-size="15.5" font-weight="normal" fill="#111" xml:space="preserve">0</text>
<text transform="translate(948.05,737.20) scale(0.7800,1)" text-anchor="middle" font-family='"Liberation Serif", serif' font-size="15.5" font-weight="normal" fill="#111" xml:space="preserve">0</text>
<text transform="translate(978.98,737.20) scale(0.7800,1)" text-anchor="middle" font-family='"Liberation Serif", serif' font-size="15.5" font-weight="normal" fill="#111" xml:space="preserve">0</text>
<text transform="translate(33.00,678.00) rotate(-90)" text-anchor="middle" font-family='"Liberation Sans", sans-serif' font-size="12" font-weight="bold" fill="#000" textLength="44" lengthAdjust="spacingAndGlyphs" letter-spacing="0.5" xml:space="preserve">Wetter</text>
<text transform="translate(33.00,741.00) rotate(-90)" text-anchor="middle" font-family='"Liberation Sans", sans-serif' font-size="10.5" font-weight="bold" fill="#000" textLength="38" lengthAdjust="spacingAndGlyphs" xml:space="preserve">Schnee</text>
<text transform="translate(1061.50,509.70)" text-anchor="middle" font-family='"Liberation Sans", sans-serif' font-size="14.6" font-weight="normal" fill="#111" textLength="88" lengthAdjust="spacingAndGlyphs" xml:space="preserve">Bodenfrosttage</text>
<text transform="translate(1146.50,509.30) scale(0.8400,1)" text-anchor="middle" font-family='"Liberation Sans", sans-serif' font-size="15.3" font-weight="bold" fill="#000" xml:space="preserve">KD</text>
<text transform="translate(1079.70,530.10)" text-anchor="middle" font-family='"Liberation Sans", sans-serif' font-size="14.2" font-weight="normal" fill="#111" textLength="168" lengthAdjust="spacingAndGlyphs" xml:space="preserve">Min-Temperatur i. 5 cm Höhe</text>
<text transform="translate(1061.50,550.60)" text-anchor="middle" font-family='"Liberation Sans", sans-serif' font-size="13.5" font-weight="normal" fill="#111" textLength="117" lengthAdjust="spacingAndGlyphs" xml:space="preserve">Niederschlag - Monat</text>
<text transform="translate(1146.50,551.10) scale(0.8400,1)" text-anchor="middle" font-family='"Liberation Sans", sans-serif' font-size="15.3" font-weight="bold" fill="#000" xml:space="preserve">60,2</text>
<text transform="translate(1061.50,570.90)" text-anchor="middle" font-family='"Liberation Sans", sans-serif' font-size="13.5" font-weight="normal" fill="#111" textLength="113.5" lengthAdjust="spacingAndGlyphs" xml:space="preserve">Höchste-Temperatur</text>
<text transform="translate(1146.50,571.40) scale(0.8400,1)" text-anchor="middle" font-family='"Liberation Sans", sans-serif' font-size="15.3" font-weight="bold" fill="#000" xml:space="preserve">10,6</text>
<text transform="translate(1061.50,591.80)" text-anchor="middle" font-family='"Liberation Sans", sans-serif' font-size="13.5" font-weight="normal" fill="#111" textLength="126.5" lengthAdjust="spacingAndGlyphs" xml:space="preserve">Niedrigste-Temperatur</text>
<text transform="translate(1146.50,592.30) scale(0.8400,1)" text-anchor="middle" font-family='"Liberation Sans", sans-serif' font-size="15.3" font-weight="bold" fill="#000" xml:space="preserve">-7,4</text>
<text transform="translate(1061.50,612.50)" text-anchor="middle" font-family='"Liberation Sans", sans-serif' font-size="13" font-weight="normal" fill="#111" textLength="59.5" lengthAdjust="spacingAndGlyphs" xml:space="preserve">Tagesmittel</text>
<text transform="translate(1146.50,613.00) scale(0.8400,1)" text-anchor="middle" font-family='"Liberation Sans", sans-serif' font-size="15.3" font-weight="bold" fill="#000" xml:space="preserve">1,8</text>
<text transform="translate(1061.50,633.10)" text-anchor="middle" font-family='"Liberation Sans", sans-serif' font-size="15.5" font-weight="normal" fill="#111" textLength="73.5" lengthAdjust="spacingAndGlyphs" xml:space="preserve">Kältesumme</text>
<text transform="translate(1146.50,633.60) scale(0.8400,1)" text-anchor="middle" font-family='"Liberation Sans", sans-serif' font-size="15.3" font-weight="bold" fill="#000" xml:space="preserve">-15,6</text>
<text transform="translate(1061.50,653.60)" text-anchor="middle" font-family='"Liberation Sans", sans-serif' font-size="13.8" font-weight="normal" fill="#111" textLength="121" lengthAdjust="spacingAndGlyphs" xml:space="preserve">Min-Bodentemperatur</text>
<text transform="translate(1146.50,654.10) scale(0.8400,1)" text-anchor="middle" font-family='"Liberation Sans", sans-serif' font-size="15.3" font-weight="bold" fill="#000" xml:space="preserve">KD</text>
<text transform="translate(1061.50,674.60)" text-anchor="middle" font-family='"Liberation Sans", sans-serif' font-size="13.3" font-weight="bold" fill="#000" textLength="119" lengthAdjust="spacingAndGlyphs" xml:space="preserve">Mittel 1961-1990 in °C</text>
<text transform="translate(1146.50,675.10) scale(0.8600,1)" text-anchor="middle" font-family='"Liberation Serif", serif' font-size="16.5" font-weight="normal" fill="#000" stroke="#000" stroke-width="0.35" xml:space="preserve">-1,9</text>
<text transform="translate(1061.50,695.20)" text-anchor="middle" font-family='"Liberation Serif", serif' font-size="12.6" font-weight="bold" fill="#ff2222" textLength="129" lengthAdjust="spacingAndGlyphs" xml:space="preserve">Abweichung v. Mittel in °C</text>
<text transform="translate(1146.00,695.70) scale(0.8600,1)" text-anchor="middle" font-family='"Liberation Serif", serif' font-size="17" font-weight="normal" fill="#ff2222" stroke="#ff2222" stroke-width="0.5" xml:space="preserve">3,7</text>
<text transform="translate(1146.50,715.50)" text-anchor="middle" font-family='"Liberation Serif", serif' font-size="11.5" font-weight="bold" fill="#000" textLength="19" lengthAdjust="spacingAndGlyphs" xml:space="preserve">Max</text>
<text transform="translate(1061.30,736.50)" text-anchor="middle" font-family='"Liberation Serif", serif' font-size="15.5" font-weight="normal" fill="#111" textLength="109.5" lengthAdjust="spacingAndGlyphs" xml:space="preserve">Schneedecke -   SH</text>
<text transform="translate(1146.50,737.20) scale(0.8400,1)" text-anchor="middle" font-family='"Liberation Sans", sans-serif' font-size="15.3" font-weight="bold" fill="#000" xml:space="preserve">20</text>
<text transform="translate(1061.50,757.10)" text-anchor="middle" font-family='"Liberation Serif", serif' font-size="15.5" font-weight="normal" fill="#111" textLength="122.5" lengthAdjust="spacingAndGlyphs" xml:space="preserve">Neuschneehöhe- NSH</text>
<text transform="translate(1146.50,757.80) scale(0.8400,1)" text-anchor="middle" font-family='"Liberation Sans", sans-serif' font-size="15.3" font-weight="bold" fill="#000" xml:space="preserve">0</text>
<line x1="1128.40" y1="700.30" x2="1165.00" y2="700.30" stroke="#000" stroke-width="2.0"/>
<line x1="1128.40" y1="700.30" x2="1128.40" y2="721.00" stroke="#000" stroke-width="2.0"/>
<line x1="436.50" y1="762.20" x2="436.50" y2="784.00" stroke="#000" stroke-width="1.6"/>
<line x1="0.00" y1="783.00" x2="1165.00" y2="783.00" stroke="#000" stroke-width="2.3"/>
<text transform="translate(0.80,778.00)" text-anchor="start" font-family='"Liberation Sans", sans-serif' font-size="12.9" font-weight="normal" fill="#2a66ae" textLength="335.7" lengthAdjust="spacingAndGlyphs" xml:space="preserve">Niederschlagsdaten DWD-Station Glashütten-Temperatur -</text>
<text transform="translate(344.20,778.00)" text-anchor="start" font-family='"Liberation Sans", sans-serif' font-size="12.9" font-weight="normal" fill="#2a66ae" textLength="90.4" lengthAdjust="spacingAndGlyphs" xml:space="preserve">DWD gerechnet</text>
<text transform="translate(455.20,778.00)" text-anchor="start" font-family='"Liberation Sans", sans-serif' font-size="12.9" font-weight="normal" fill="#111" textLength="89.2" lengthAdjust="spacingAndGlyphs" xml:space="preserve">Datenerfassung:</text>
<text transform="translate(550.40,778.00)" text-anchor="start" font-family='"Liberation Sans", sans-serif' font-size="12.9" font-weight="normal" fill="#111" textLength="53.0" lengthAdjust="spacingAndGlyphs" xml:space="preserve">Standort -</text>
<text transform="translate(609.20,778.00)" text-anchor="start" font-family='"Liberation Sans", sans-serif' font-size="12.9" font-weight="normal" fill="#111" textLength="30.4" lengthAdjust="spacingAndGlyphs" xml:space="preserve">95496</text>
<text transform="translate(645.90,778.00)" text-anchor="start" font-family='"Liberation Sans", sans-serif' font-size="12.9" font-weight="normal" fill="#111" textLength="62.3" lengthAdjust="spacingAndGlyphs" xml:space="preserve">Glashütten,</text>
<text transform="translate(712.20,778.00)" text-anchor="start" font-family='"Liberation Sans", sans-serif' font-size="12.9" font-weight="normal" fill="#111" textLength="85.8" lengthAdjust="spacingAndGlyphs" xml:space="preserve">Altenhimmelstr.</text>
<text transform="translate(805.00,778.00)" text-anchor="start" font-family='"Liberation Sans", sans-serif' font-size="12.9" font-weight="normal" fill="#111" textLength="92.5" lengthAdjust="spacingAndGlyphs" xml:space="preserve">37 - Koordinaten:</text>
<text transform="translate(903.20,778.00)" text-anchor="start" font-family='"Liberation Sans", sans-serif' font-size="12.9" font-weight="normal" fill="#111" textLength="84.6" lengthAdjust="spacingAndGlyphs" xml:space="preserve">49° 52' 48' Nord,</text>
<text transform="translate(997.60,778.00)" text-anchor="start" font-family='"Liberation Sans", sans-serif' font-size="12.9" font-weight="normal" fill="#111" textLength="75.0" lengthAdjust="spacingAndGlyphs" xml:space="preserve">11° 27' 04'' Ost</text>
<text transform="translate(1080.70,778.00)" text-anchor="start" font-family='"Liberation Sans", sans-serif' font-size="12.9" font-weight="normal" fill="#111" textLength="65.1" lengthAdjust="spacingAndGlyphs" xml:space="preserve">440 m ü. NN</text></svg>
</body></html>
